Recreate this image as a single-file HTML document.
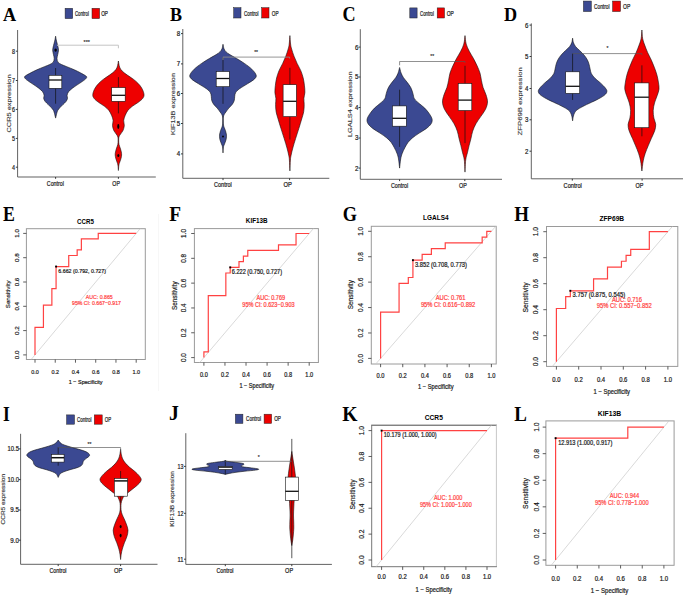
<!DOCTYPE html><html><head><meta charset="utf-8"><style>html,body{margin:0;padding:0;background:#fff;width:685px;height:596px;overflow:hidden}svg{display:block}</style></head><body>
<svg width="685" height="596" viewBox="0 0 685 596">
<rect width="685" height="596" fill="#fff"/>
<text transform="translate(3.00,20.90) scale(0.917,1)" x="0" y="0" font-family="Liberation Serif" font-weight="bold" font-size="19.85" fill="#000">A</text>
<rect x="65.1" y="8.3" width="7.6" height="10.3" fill="#3B4992" stroke="#222" stroke-width="0.5"/>
<text x="74.90" y="15.90" font-family="Liberation Sans" font-size="6.8" font-weight="normal" fill="#1a1a1a" stroke="#1a1a1a" stroke-width="0.22" textLength="14.00" lengthAdjust="spacingAndGlyphs">Control</text>
<rect x="92" y="8.3" width="7.6" height="10.3" fill="#EE0000" stroke="#222" stroke-width="0.5"/>
<text x="101.20" y="15.90" font-family="Liberation Sans" font-size="6.8" font-weight="normal" fill="#1a1a1a" stroke="#1a1a1a" stroke-width="0.22" textLength="6.80" lengthAdjust="spacingAndGlyphs">OP</text>
<path d="M17.6,30 L17.6,177 L155.8,177" fill="none" stroke="#5a5a5a" stroke-width="0.95"/>
<line x1="15.8" y1="51.2" x2="17.6" y2="51.2" stroke="#222" stroke-width="0.9"/>
<line x1="15.8" y1="80.5" x2="17.6" y2="80.5" stroke="#222" stroke-width="0.9"/>
<line x1="15.8" y1="109.4" x2="17.6" y2="109.4" stroke="#222" stroke-width="0.9"/>
<line x1="15.8" y1="138.4" x2="17.6" y2="138.4" stroke="#222" stroke-width="0.9"/>
<line x1="15.8" y1="167.2" x2="17.6" y2="167.2" stroke="#222" stroke-width="0.9"/>
<text x="12.10" y="53.60" font-family="Liberation Sans" font-size="7.2" font-weight="normal" fill="#1a1a1a" stroke="#1a1a1a" stroke-width="0.22" textLength="3.00" lengthAdjust="spacingAndGlyphs">8</text>
<text x="12.10" y="82.90" font-family="Liberation Sans" font-size="7.2" font-weight="normal" fill="#1a1a1a" stroke="#1a1a1a" stroke-width="0.22" textLength="3.00" lengthAdjust="spacingAndGlyphs">7</text>
<text x="12.10" y="111.80" font-family="Liberation Sans" font-size="7.2" font-weight="normal" fill="#1a1a1a" stroke="#1a1a1a" stroke-width="0.22" textLength="3.00" lengthAdjust="spacingAndGlyphs">6</text>
<text x="12.10" y="140.80" font-family="Liberation Sans" font-size="7.2" font-weight="normal" fill="#1a1a1a" stroke="#1a1a1a" stroke-width="0.22" textLength="3.00" lengthAdjust="spacingAndGlyphs">5</text>
<text x="12.10" y="169.60" font-family="Liberation Sans" font-size="7.2" font-weight="normal" fill="#1a1a1a" stroke="#1a1a1a" stroke-width="0.22" textLength="3.00" lengthAdjust="spacingAndGlyphs">4</text>
<g transform="translate(8.70,103.50) scale(0.72,1) rotate(-90)"><text x="0" y="0" dy="0.35em" font-family="Liberation Sans" font-size="7.5" fill="#3a3a3a" text-anchor="middle" stroke="#3a3a3a" stroke-width="0.18" textLength="58" lengthAdjust="spacingAndGlyphs">CCR5 expression</text></g>
<line x1="55.6" y1="177" x2="55.6" y2="178.8" stroke="#222" stroke-width="0.9"/>
<line x1="118.4" y1="177" x2="118.4" y2="178.8" stroke="#222" stroke-width="0.9"/>
<text x="46.80" y="185.80" font-family="Liberation Sans" font-size="7.4" font-weight="normal" fill="#1a1a1a" stroke="#1a1a1a" stroke-width="0.22" textLength="17.10" lengthAdjust="spacingAndGlyphs">Control</text>
<text x="112.30" y="185.80" font-family="Liberation Sans" font-size="7.4" font-weight="normal" fill="#1a1a1a" stroke="#1a1a1a" stroke-width="0.22" textLength="7.60" lengthAdjust="spacingAndGlyphs">OP</text>
<path d="M55.60,36.20 C55.75,37.02 56.15,39.53 56.50,41.10 C56.85,42.67 57.37,44.10 57.70,45.60 C58.03,47.10 58.50,48.58 58.50,50.10 C58.50,51.62 57.95,53.32 57.70,54.70 C57.45,56.08 56.95,57.15 57.00,58.40 C57.05,59.65 57.25,61.18 58.00,62.20 C58.75,63.22 60.03,63.75 61.50,64.50 C62.97,65.25 64.67,65.82 66.80,66.70 C68.93,67.58 72.03,68.78 74.30,69.80 C76.57,70.82 78.52,71.80 80.40,72.80 C82.28,73.80 84.55,75.05 85.60,75.80 C86.65,76.55 86.82,76.67 86.70,77.30 C86.58,77.93 86.08,78.60 84.90,79.60 C83.72,80.60 81.62,81.92 79.60,83.30 C77.58,84.68 74.63,86.50 72.80,87.90 C70.97,89.30 69.55,90.45 68.60,91.70 C67.65,92.95 67.28,94.28 67.10,95.40 C66.92,96.52 67.68,97.38 67.50,98.40 C67.32,99.42 66.75,100.48 66.00,101.50 C65.25,102.52 64.00,103.50 63.00,104.50 C62.00,105.50 60.88,106.50 60.00,107.50 C59.12,108.50 58.25,109.50 57.70,110.50 C57.15,111.50 57.05,112.23 56.70,113.50 C56.35,114.77 55.78,117.33 55.60,118.10 C55.42,117.33 54.85,114.77 54.50,113.50 C54.15,112.23 54.05,111.50 53.50,110.50 C52.95,109.50 52.08,108.50 51.20,107.50 C50.32,106.50 49.20,105.50 48.20,104.50 C47.20,103.50 45.95,102.52 45.20,101.50 C44.45,100.48 43.88,99.42 43.70,98.40 C43.52,97.38 44.28,96.52 44.10,95.40 C43.92,94.28 43.55,92.95 42.60,91.70 C41.65,90.45 40.23,89.30 38.40,87.90 C36.57,86.50 33.62,84.68 31.60,83.30 C29.58,81.92 27.48,80.60 26.30,79.60 C25.12,78.60 24.62,77.93 24.50,77.30 C24.38,76.67 24.55,76.55 25.60,75.80 C26.65,75.05 28.92,73.80 30.80,72.80 C32.68,71.80 34.63,70.82 36.90,69.80 C39.17,68.78 42.27,67.58 44.40,66.70 C46.53,65.82 48.23,65.25 49.70,64.50 C51.17,63.75 52.45,63.22 53.20,62.20 C53.95,61.18 54.15,59.65 54.20,58.40 C54.25,57.15 53.75,56.08 53.50,54.70 C53.25,53.32 52.70,51.62 52.70,50.10 C52.70,48.58 53.17,47.10 53.50,45.60 C53.83,44.10 54.35,42.67 54.70,41.10 C55.05,39.53 55.45,37.02 55.60,36.20Z" fill="#3B4992" stroke="#111" stroke-width="0.6"/>
<ellipse cx="55.6" cy="50.1" rx="1.25" ry="1.6" fill="#000"/>
<line x1="55.6" y1="68" x2="55.6" y2="103.7" stroke="#111" stroke-width="0.7"/>
<rect x="49" y="75.3" width="12.799999999999997" height="13.0" fill="#fff" stroke="#111" stroke-width="0.6"/>
<line x1="49" y1="80" x2="61.8" y2="80" stroke="#111" stroke-width="1.3"/>
<path d="M118.40,61.00 C118.60,62.02 118.97,65.42 119.60,67.10 C120.23,68.78 120.92,69.77 122.20,71.10 C123.48,72.43 125.45,73.75 127.30,75.10 C129.15,76.45 131.53,77.85 133.30,79.20 C135.07,80.55 136.48,81.70 137.90,83.20 C139.32,84.70 140.78,86.35 141.80,88.20 C142.82,90.05 143.83,92.62 144.00,94.30 C144.17,95.98 143.75,96.97 142.80,98.30 C141.85,99.63 140.05,100.97 138.30,102.30 C136.55,103.63 134.03,104.95 132.30,106.30 C130.57,107.65 129.08,108.88 127.90,110.40 C126.72,111.92 125.90,113.73 125.20,115.40 C124.50,117.07 123.85,118.70 123.70,120.40 C123.55,122.10 124.42,123.92 124.30,125.60 C124.18,127.28 123.62,129.10 123.00,130.50 C122.38,131.90 121.28,132.92 120.60,134.00 C119.92,135.08 119.22,135.83 118.90,137.00 C118.58,138.17 118.68,139.75 118.70,141.00 C118.72,142.25 118.75,143.33 119.00,144.50 C119.25,145.67 119.82,146.75 120.20,148.00 C120.58,149.25 121.07,150.83 121.30,152.00 C121.53,153.17 121.65,153.92 121.60,155.00 C121.55,156.08 121.30,157.33 121.00,158.50 C120.70,159.67 120.15,160.92 119.80,162.00 C119.45,163.08 119.13,163.58 118.90,165.00 C118.67,166.42 118.48,169.58 118.40,170.50 C118.32,169.58 118.13,166.42 117.90,165.00 C117.67,163.58 117.35,163.08 117.00,162.00 C116.65,160.92 116.10,159.67 115.80,158.50 C115.50,157.33 115.25,156.08 115.20,155.00 C115.15,153.92 115.27,153.17 115.50,152.00 C115.73,150.83 116.22,149.25 116.60,148.00 C116.98,146.75 117.55,145.67 117.80,144.50 C118.05,143.33 118.08,142.25 118.10,141.00 C118.12,139.75 118.22,138.17 117.90,137.00 C117.58,135.83 116.88,135.08 116.20,134.00 C115.52,132.92 114.42,131.90 113.80,130.50 C113.18,129.10 112.62,127.28 112.50,125.60 C112.38,123.92 113.25,122.10 113.10,120.40 C112.95,118.70 112.30,117.07 111.60,115.40 C110.90,113.73 110.08,111.92 108.90,110.40 C107.72,108.88 106.23,107.65 104.50,106.30 C102.77,104.95 100.25,103.63 98.50,102.30 C96.75,100.97 94.95,99.63 94.00,98.30 C93.05,96.97 92.63,95.98 92.80,94.30 C92.97,92.62 93.98,90.05 95.00,88.20 C96.02,86.35 97.48,84.70 98.90,83.20 C100.32,81.70 101.73,80.55 103.50,79.20 C105.27,77.85 107.65,76.45 109.50,75.10 C111.35,73.75 113.32,72.43 114.60,71.10 C115.88,69.77 116.57,68.78 117.20,67.10 C117.83,65.42 118.20,62.02 118.40,61.00Z" fill="#EE0000" stroke="#111" stroke-width="0.6"/>
<line x1="118.4" y1="77.1" x2="118.4" y2="113.4" stroke="#111" stroke-width="0.7"/>
<rect x="111.7" y="87.6" width="13.5" height="13.700000000000003" fill="#fff" stroke="#111" stroke-width="0.6"/>
<line x1="111.7" y1="95.3" x2="125.2" y2="95.3" stroke="#111" stroke-width="1.3"/>
<ellipse cx="118.3" cy="126.5" rx="1.05" ry="2.4" fill="#000"/>
<ellipse cx="118.3" cy="155.5" rx="1.0" ry="1.6" fill="#000"/>
<path d="M57,45.2 L57,45.2 L118.4,45.2 L118.4,48.3" fill="none" stroke="#c4c4c4" stroke-width="1.0"/>
<text x="86.8" y="43.6" font-family="Liberation Sans" font-size="5.5" fill="#333" stroke="#333" stroke-width="0.15" text-anchor="middle">***</text>
<text transform="translate(169.90,20.60) scale(0.930,1)" x="0" y="0" font-family="Liberation Serif" font-weight="bold" font-size="19.39" fill="#000">B</text>
<rect x="233.7" y="7.7" width="7.3" height="10.3" fill="#3B4992" stroke="#222" stroke-width="0.5"/>
<text x="243.90" y="15.80" font-family="Liberation Sans" font-size="6.8" font-weight="normal" fill="#1a1a1a" stroke="#1a1a1a" stroke-width="0.22" textLength="14.70" lengthAdjust="spacingAndGlyphs">Control</text>
<rect x="261.7" y="7.7" width="7.3" height="10.3" fill="#EE0000" stroke="#222" stroke-width="0.5"/>
<text x="271.80" y="15.80" font-family="Liberation Sans" font-size="6.8" font-weight="normal" fill="#1a1a1a" stroke="#1a1a1a" stroke-width="0.22" textLength="6.80" lengthAdjust="spacingAndGlyphs">OP</text>
<path d="M182.8,29 L182.8,178.3 L329.3,178.3" fill="none" stroke="#5a5a5a" stroke-width="0.95"/>
<line x1="181.0" y1="33.6" x2="182.8" y2="33.6" stroke="#222" stroke-width="0.9"/>
<line x1="181.0" y1="63.9" x2="182.8" y2="63.9" stroke="#222" stroke-width="0.9"/>
<line x1="181.0" y1="93.5" x2="182.8" y2="93.5" stroke="#222" stroke-width="0.9"/>
<line x1="181.0" y1="123.5" x2="182.8" y2="123.5" stroke="#222" stroke-width="0.9"/>
<line x1="181.0" y1="153.9" x2="182.8" y2="153.9" stroke="#222" stroke-width="0.9"/>
<text x="176.70" y="36.00" font-family="Liberation Sans" font-size="7.3" font-weight="normal" fill="#1a1a1a" stroke="#1a1a1a" stroke-width="0.22" textLength="3.40" lengthAdjust="spacingAndGlyphs">8</text>
<text x="176.70" y="66.30" font-family="Liberation Sans" font-size="7.3" font-weight="normal" fill="#1a1a1a" stroke="#1a1a1a" stroke-width="0.22" textLength="3.40" lengthAdjust="spacingAndGlyphs">7</text>
<text x="176.70" y="95.90" font-family="Liberation Sans" font-size="7.3" font-weight="normal" fill="#1a1a1a" stroke="#1a1a1a" stroke-width="0.22" textLength="3.40" lengthAdjust="spacingAndGlyphs">6</text>
<text x="176.70" y="125.90" font-family="Liberation Sans" font-size="7.3" font-weight="normal" fill="#1a1a1a" stroke="#1a1a1a" stroke-width="0.22" textLength="3.40" lengthAdjust="spacingAndGlyphs">5</text>
<text x="176.70" y="156.30" font-family="Liberation Sans" font-size="7.3" font-weight="normal" fill="#1a1a1a" stroke="#1a1a1a" stroke-width="0.22" textLength="3.40" lengthAdjust="spacingAndGlyphs">4</text>
<g transform="translate(173.20,104.00) scale(0.75,1) rotate(-90)"><text x="0" y="0" dy="0.35em" font-family="Liberation Sans" font-size="7.3" fill="#3a3a3a" text-anchor="middle" stroke="#3a3a3a" stroke-width="0.18" textLength="62" lengthAdjust="spacingAndGlyphs">KIF13B expression</text></g>
<line x1="223" y1="178.3" x2="223" y2="180.10000000000002" stroke="#222" stroke-width="0.9"/>
<line x1="289.6" y1="178.3" x2="289.6" y2="180.10000000000002" stroke="#222" stroke-width="0.9"/>
<text x="214.10" y="186.90" font-family="Liberation Sans" font-size="6.9" font-weight="normal" fill="#1a1a1a" stroke="#1a1a1a" stroke-width="0.22" textLength="17.70" lengthAdjust="spacingAndGlyphs">Control</text>
<text x="283.50" y="186.90" font-family="Liberation Sans" font-size="6.9" font-weight="normal" fill="#1a1a1a" stroke="#1a1a1a" stroke-width="0.22" textLength="8.40" lengthAdjust="spacingAndGlyphs">OP</text>
<path d="M223.00,44.30 C223.17,45.05 223.52,47.57 224.00,48.80 C224.48,50.03 224.93,50.73 225.90,51.70 C226.87,52.67 228.02,53.47 229.80,54.60 C231.58,55.73 234.17,57.03 236.60,58.50 C239.03,59.97 241.87,61.62 244.40,63.40 C246.93,65.18 249.85,67.27 251.80,69.20 C253.75,71.13 255.63,73.38 256.10,75.00 C256.57,76.62 256.05,77.43 254.60,78.90 C253.15,80.37 249.90,82.17 247.40,83.80 C244.90,85.43 241.55,87.25 239.60,88.70 C237.65,90.15 236.52,91.22 235.70,92.50 C234.88,93.78 234.93,95.10 234.70,96.40 C234.47,97.70 234.68,99.00 234.30,100.30 C233.92,101.60 233.32,102.90 232.40,104.20 C231.48,105.50 229.88,106.80 228.80,108.10 C227.72,109.40 226.67,110.93 225.90,112.00 C225.13,113.07 224.62,113.67 224.20,114.50 C223.78,115.33 223.55,115.92 223.40,117.00 C223.25,118.08 223.28,119.67 223.30,121.00 C223.32,122.33 223.35,123.92 223.50,125.00 C223.65,126.08 223.88,126.58 224.20,127.50 C224.52,128.42 225.05,129.42 225.40,130.50 C225.75,131.58 226.12,133.00 226.30,134.00 C226.48,135.00 226.53,135.58 226.50,136.50 C226.47,137.42 226.33,138.50 226.10,139.50 C225.87,140.50 225.47,141.50 225.10,142.50 C224.73,143.50 224.20,144.58 223.90,145.50 C223.60,146.42 223.45,146.77 223.30,148.00 C223.15,149.23 223.05,152.08 223.00,152.90 C222.95,152.08 222.85,149.23 222.70,148.00 C222.55,146.77 222.40,146.42 222.10,145.50 C221.80,144.58 221.27,143.50 220.90,142.50 C220.53,141.50 220.13,140.50 219.90,139.50 C219.67,138.50 219.53,137.42 219.50,136.50 C219.47,135.58 219.52,135.00 219.70,134.00 C219.88,133.00 220.25,131.58 220.60,130.50 C220.95,129.42 221.48,128.42 221.80,127.50 C222.12,126.58 222.35,126.08 222.50,125.00 C222.65,123.92 222.68,122.33 222.70,121.00 C222.72,119.67 222.75,118.08 222.60,117.00 C222.45,115.92 222.22,115.33 221.80,114.50 C221.38,113.67 220.87,113.07 220.10,112.00 C219.33,110.93 218.28,109.40 217.20,108.10 C216.12,106.80 214.52,105.50 213.60,104.20 C212.68,102.90 212.08,101.60 211.70,100.30 C211.32,99.00 211.53,97.70 211.30,96.40 C211.07,95.10 211.12,93.78 210.30,92.50 C209.48,91.22 208.35,90.15 206.40,88.70 C204.45,87.25 201.10,85.43 198.60,83.80 C196.10,82.17 192.85,80.37 191.40,78.90 C189.95,77.43 189.43,76.62 189.90,75.00 C190.37,73.38 192.25,71.13 194.20,69.20 C196.15,67.27 199.07,65.18 201.60,63.40 C204.13,61.62 206.97,59.97 209.40,58.50 C211.83,57.03 214.42,55.73 216.20,54.60 C217.98,53.47 219.13,52.67 220.10,51.70 C221.07,50.73 221.52,50.03 222.00,48.80 C222.48,47.57 222.83,45.05 223.00,44.30Z" fill="#3B4992" stroke="#111" stroke-width="0.6"/>
<line x1="223" y1="57.1" x2="223" y2="103.8" stroke="#111" stroke-width="0.7"/>
<rect x="216.2" y="71.5" width="13.100000000000023" height="15.200000000000003" fill="#fff" stroke="#111" stroke-width="0.6"/>
<line x1="216.2" y1="78.5" x2="229.3" y2="78.5" stroke="#111" stroke-width="1.3"/>
<ellipse cx="223" cy="136.5" rx="0.95" ry="1.0" fill="#000"/>
<path d="M289.90,35.60 C290.02,37.02 290.32,41.88 290.60,44.10 C290.88,46.32 291.03,46.88 291.60,48.90 C292.17,50.92 293.08,53.78 294.00,56.20 C294.92,58.62 295.97,60.98 297.10,63.40 C298.23,65.82 299.78,68.27 300.80,70.70 C301.82,73.13 302.60,75.58 303.20,78.00 C303.80,80.42 304.12,82.80 304.40,85.20 C304.68,87.60 304.98,90.20 304.90,92.40 C304.82,94.60 304.02,96.38 303.90,98.40 C303.78,100.42 304.23,102.28 304.20,104.50 C304.17,106.72 304.12,109.28 303.70,111.70 C303.28,114.12 302.52,116.18 301.70,119.00 C300.88,121.82 299.80,125.38 298.80,128.60 C297.80,131.82 296.70,135.07 295.70,138.30 C294.70,141.53 293.57,145.18 292.80,148.00 C292.03,150.82 291.50,153.20 291.10,155.20 C290.70,157.20 290.60,157.38 290.40,160.00 C290.20,162.62 289.98,169.08 289.90,170.90 C289.82,169.08 289.60,162.62 289.40,160.00 C289.20,157.38 289.10,157.20 288.70,155.20 C288.30,153.20 287.77,150.82 287.00,148.00 C286.23,145.18 285.10,141.53 284.10,138.30 C283.10,135.07 282.00,131.82 281.00,128.60 C280.00,125.38 278.92,121.82 278.10,119.00 C277.28,116.18 276.52,114.12 276.10,111.70 C275.68,109.28 275.63,106.72 275.60,104.50 C275.57,102.28 276.02,100.42 275.90,98.40 C275.78,96.38 274.98,94.60 274.90,92.40 C274.82,90.20 275.12,87.60 275.40,85.20 C275.68,82.80 276.00,80.42 276.60,78.00 C277.20,75.58 277.98,73.13 279.00,70.70 C280.02,68.27 281.57,65.82 282.70,63.40 C283.83,60.98 284.88,58.62 285.80,56.20 C286.72,53.78 287.63,50.92 288.20,48.90 C288.77,46.88 288.92,46.32 289.20,44.10 C289.48,41.88 289.78,37.02 289.90,35.60Z" fill="#EE0000" stroke="#111" stroke-width="0.6"/>
<line x1="289.9" y1="67.8" x2="289.9" y2="139.5" stroke="#111" stroke-width="0.7"/>
<rect x="283.1" y="84.7" width="13.299999999999955" height="31.89999999999999" fill="#fff" stroke="#111" stroke-width="0.6"/>
<line x1="283.1" y1="101.3" x2="296.4" y2="101.3" stroke="#111" stroke-width="1.3"/>
<path d="M223,60 L223,57.1 L289.6,57.1 L289.6,58.5" fill="none" stroke="#8a8a8a" stroke-width="0.9"/>
<text x="256.1" y="54.1" font-family="Liberation Sans" font-size="5" fill="#333" stroke="#333" stroke-width="0.15" text-anchor="middle">**</text>
<text transform="translate(342.50,21.39) scale(0.858,1)" x="0" y="0" font-family="Liberation Serif" font-weight="bold" font-size="21.19" fill="#000">C</text>
<rect x="409.8" y="7.9" width="7.3" height="10.1" fill="#3B4992" stroke="#222" stroke-width="0.5"/>
<text x="420.00" y="15.60" font-family="Liberation Sans" font-size="6.8" font-weight="normal" fill="#1a1a1a" stroke="#1a1a1a" stroke-width="0.22" textLength="14.00" lengthAdjust="spacingAndGlyphs">Control</text>
<rect x="437.2" y="7.9" width="7.3" height="10.1" fill="#EE0000" stroke="#222" stroke-width="0.5"/>
<text x="446.80" y="15.60" font-family="Liberation Sans" font-size="6.8" font-weight="normal" fill="#1a1a1a" stroke="#1a1a1a" stroke-width="0.22" textLength="7.10" lengthAdjust="spacingAndGlyphs">OP</text>
<path d="M360.3,29.2 L360.3,179.3 L502,179.3" fill="none" stroke="#5a5a5a" stroke-width="0.95"/>
<line x1="358.5" y1="47.1" x2="360.3" y2="47.1" stroke="#222" stroke-width="0.9"/>
<line x1="358.5" y1="77" x2="360.3" y2="77" stroke="#222" stroke-width="0.9"/>
<line x1="358.5" y1="107.5" x2="360.3" y2="107.5" stroke="#222" stroke-width="0.9"/>
<line x1="358.5" y1="138" x2="360.3" y2="138" stroke="#222" stroke-width="0.9"/>
<line x1="358.5" y1="168.1" x2="360.3" y2="168.1" stroke="#222" stroke-width="0.9"/>
<text x="354.90" y="49.50" font-family="Liberation Sans" font-size="7.3" font-weight="normal" fill="#1a1a1a" stroke="#1a1a1a" stroke-width="0.22" textLength="3.40" lengthAdjust="spacingAndGlyphs">6</text>
<text x="354.90" y="79.40" font-family="Liberation Sans" font-size="7.3" font-weight="normal" fill="#1a1a1a" stroke="#1a1a1a" stroke-width="0.22" textLength="3.40" lengthAdjust="spacingAndGlyphs">5</text>
<text x="354.90" y="109.90" font-family="Liberation Sans" font-size="7.3" font-weight="normal" fill="#1a1a1a" stroke="#1a1a1a" stroke-width="0.22" textLength="3.40" lengthAdjust="spacingAndGlyphs">4</text>
<text x="354.90" y="140.40" font-family="Liberation Sans" font-size="7.3" font-weight="normal" fill="#1a1a1a" stroke="#1a1a1a" stroke-width="0.22" textLength="3.40" lengthAdjust="spacingAndGlyphs">3</text>
<text x="354.90" y="170.50" font-family="Liberation Sans" font-size="7.3" font-weight="normal" fill="#1a1a1a" stroke="#1a1a1a" stroke-width="0.22" textLength="3.40" lengthAdjust="spacingAndGlyphs">2</text>
<g transform="translate(350.70,104.30) scale(0.7,1) rotate(-90)"><text x="0" y="0" dy="0.35em" font-family="Liberation Sans" font-size="7.3" fill="#3a3a3a" text-anchor="middle" stroke="#3a3a3a" stroke-width="0.18" textLength="65.6" lengthAdjust="spacingAndGlyphs">LGALS4 expression</text></g>
<line x1="399.6" y1="179.3" x2="399.6" y2="181.10000000000002" stroke="#222" stroke-width="0.9"/>
<line x1="464.8" y1="179.3" x2="464.8" y2="181.10000000000002" stroke="#222" stroke-width="0.9"/>
<text x="390.90" y="188.30" font-family="Liberation Sans" font-size="6.9" font-weight="normal" fill="#1a1a1a" stroke="#1a1a1a" stroke-width="0.22" textLength="17.20" lengthAdjust="spacingAndGlyphs">Control</text>
<text x="459.00" y="188.30" font-family="Liberation Sans" font-size="6.9" font-weight="normal" fill="#1a1a1a" stroke="#1a1a1a" stroke-width="0.22" textLength="7.80" lengthAdjust="spacingAndGlyphs">OP</text>
<path d="M399.60,67.50 C399.85,68.43 400.45,71.40 401.10,73.10 C401.75,74.80 402.48,76.17 403.50,77.70 C404.52,79.23 405.97,80.62 407.20,82.30 C408.43,83.98 409.95,85.95 410.90,87.80 C411.85,89.65 412.30,91.55 412.90,93.40 C413.50,95.25 413.45,97.22 414.50,98.90 C415.55,100.58 417.50,101.97 419.20,103.50 C420.90,105.03 423.02,106.40 424.70,108.10 C426.38,109.80 428.07,111.85 429.30,113.70 C430.53,115.55 431.80,117.52 432.10,119.20 C432.40,120.88 432.03,122.27 431.10,123.80 C430.17,125.33 428.48,126.85 426.50,128.40 C424.52,129.95 421.50,131.55 419.20,133.10 C416.90,134.65 414.55,136.17 412.70,137.70 C410.85,139.23 409.42,140.62 408.10,142.30 C406.78,143.98 405.78,145.95 404.80,147.80 C403.82,149.65 402.88,151.55 402.20,153.40 C401.52,155.25 401.13,156.45 400.70,158.90 C400.27,161.35 399.78,166.57 399.60,168.10 C399.42,166.57 398.93,161.35 398.50,158.90 C398.07,156.45 397.68,155.25 397.00,153.40 C396.32,151.55 395.38,149.65 394.40,147.80 C393.42,145.95 392.42,143.98 391.10,142.30 C389.78,140.62 388.35,139.23 386.50,137.70 C384.65,136.17 382.30,134.65 380.00,133.10 C377.70,131.55 374.68,129.95 372.70,128.40 C370.72,126.85 369.03,125.33 368.10,123.80 C367.17,122.27 366.80,120.88 367.10,119.20 C367.40,117.52 368.67,115.55 369.90,113.70 C371.13,111.85 372.82,109.80 374.50,108.10 C376.18,106.40 378.30,105.03 380.00,103.50 C381.70,101.97 383.65,100.58 384.70,98.90 C385.75,97.22 385.70,95.25 386.30,93.40 C386.90,91.55 387.35,89.65 388.30,87.80 C389.25,85.95 390.77,83.98 392.00,82.30 C393.23,80.62 394.68,79.23 395.70,77.70 C396.72,76.17 397.45,74.80 398.10,73.10 C398.75,71.40 399.35,68.43 399.60,67.50Z" fill="#3B4992" stroke="#111" stroke-width="0.6"/>
<line x1="399.6" y1="89.7" x2="399.6" y2="146.9" stroke="#111" stroke-width="0.7"/>
<rect x="392.4" y="105.9" width="13.900000000000034" height="20.299999999999997" fill="#fff" stroke="#111" stroke-width="0.6"/>
<line x1="392.4" y1="118.3" x2="406.3" y2="118.3" stroke="#111" stroke-width="1.3"/>
<path d="M465.00,35.60 C465.20,37.02 465.48,41.48 466.20,44.10 C466.92,46.72 468.08,48.88 469.30,51.30 C470.52,53.72 472.20,56.18 473.50,58.60 C474.80,61.02 476.02,63.38 477.10,65.80 C478.18,68.22 479.28,70.68 480.00,73.10 C480.72,75.52 480.88,77.88 481.40,80.30 C481.92,82.72 482.33,85.18 483.10,87.60 C483.87,90.02 485.27,92.40 486.00,94.80 C486.73,97.20 487.58,99.58 487.50,102.00 C487.42,104.42 486.63,106.87 485.50,109.30 C484.37,111.73 482.30,114.18 480.70,116.60 C479.10,119.02 477.23,121.38 475.90,123.80 C474.57,126.22 473.52,128.68 472.70,131.10 C471.88,133.52 471.60,135.88 471.00,138.30 C470.40,140.72 469.70,143.18 469.10,145.60 C468.50,148.02 467.97,150.40 467.40,152.80 C466.83,155.20 466.10,156.78 465.70,160.00 C465.30,163.22 465.12,170.08 465.00,172.10 C464.88,170.08 464.70,163.22 464.30,160.00 C463.90,156.78 463.17,155.20 462.60,152.80 C462.03,150.40 461.50,148.02 460.90,145.60 C460.30,143.18 459.60,140.72 459.00,138.30 C458.40,135.88 458.12,133.52 457.30,131.10 C456.48,128.68 455.43,126.22 454.10,123.80 C452.77,121.38 450.90,119.02 449.30,116.60 C447.70,114.18 445.63,111.73 444.50,109.30 C443.37,106.87 442.58,104.42 442.50,102.00 C442.42,99.58 443.27,97.20 444.00,94.80 C444.73,92.40 446.13,90.02 446.90,87.60 C447.67,85.18 448.08,82.72 448.60,80.30 C449.12,77.88 449.28,75.52 450.00,73.10 C450.72,70.68 451.82,68.22 452.90,65.80 C453.98,63.38 455.20,61.02 456.50,58.60 C457.80,56.18 459.48,53.72 460.70,51.30 C461.92,48.88 463.08,46.72 463.80,44.10 C464.52,41.48 464.80,37.02 465.00,35.60Z" fill="#EE0000" stroke="#111" stroke-width="0.6"/>
<line x1="465" y1="65.8" x2="465" y2="143.1" stroke="#111" stroke-width="0.7"/>
<rect x="458.2" y="83.5" width="13.600000000000023" height="27.0" fill="#fff" stroke="#111" stroke-width="0.6"/>
<line x1="458.2" y1="100.1" x2="471.8" y2="100.1" stroke="#111" stroke-width="1.3"/>
<path d="M399.6,65.3 L399.6,61.5 L465,61.5 L465,62.9" fill="none" stroke="#555" stroke-width="0.65"/>
<text x="432.3" y="58.3" font-family="Liberation Sans" font-size="5" fill="#333" stroke="#333" stroke-width="0.15" text-anchor="middle">**</text>
<text transform="translate(504.10,21.00) scale(0.917,1)" x="0" y="0" font-family="Liberation Serif" font-weight="bold" font-size="19.85" fill="#000">D</text>
<rect x="583.4" y="1.05" width="7.9" height="10.5" fill="#3B4992" stroke="#222" stroke-width="0.5"/>
<text x="594.00" y="8.90" font-family="Liberation Sans" font-size="6.8" font-weight="normal" fill="#1a1a1a" stroke="#1a1a1a" stroke-width="0.22" textLength="15.50" lengthAdjust="spacingAndGlyphs">Control</text>
<rect x="612.6" y="1.05" width="7.9" height="10.5" fill="#EE0000" stroke="#222" stroke-width="0.5"/>
<text x="623.10" y="8.90" font-family="Liberation Sans" font-size="6.8" font-weight="normal" fill="#1a1a1a" stroke="#1a1a1a" stroke-width="0.22" textLength="7.30" lengthAdjust="spacingAndGlyphs">OP</text>
<path d="M531.3,23.4 L531.3,178.8 L683,178.8" fill="none" stroke="#5a5a5a" stroke-width="0.95"/>
<line x1="529.5" y1="25.1" x2="531.3" y2="25.1" stroke="#222" stroke-width="0.9"/>
<line x1="529.5" y1="56.5" x2="531.3" y2="56.5" stroke="#222" stroke-width="0.9"/>
<line x1="529.5" y1="88.5" x2="531.3" y2="88.5" stroke="#222" stroke-width="0.9"/>
<line x1="529.5" y1="119.8" x2="531.3" y2="119.8" stroke="#222" stroke-width="0.9"/>
<line x1="529.5" y1="151.2" x2="531.3" y2="151.2" stroke="#222" stroke-width="0.9"/>
<text x="525.00" y="27.50" font-family="Liberation Sans" font-size="7.3" font-weight="normal" fill="#1a1a1a" stroke="#1a1a1a" stroke-width="0.22" textLength="3.40" lengthAdjust="spacingAndGlyphs">6</text>
<text x="525.00" y="58.90" font-family="Liberation Sans" font-size="7.3" font-weight="normal" fill="#1a1a1a" stroke="#1a1a1a" stroke-width="0.22" textLength="3.40" lengthAdjust="spacingAndGlyphs">5</text>
<text x="525.00" y="90.90" font-family="Liberation Sans" font-size="7.3" font-weight="normal" fill="#1a1a1a" stroke="#1a1a1a" stroke-width="0.22" textLength="3.40" lengthAdjust="spacingAndGlyphs">4</text>
<text x="525.00" y="122.20" font-family="Liberation Sans" font-size="7.3" font-weight="normal" fill="#1a1a1a" stroke="#1a1a1a" stroke-width="0.22" textLength="3.40" lengthAdjust="spacingAndGlyphs">3</text>
<text x="525.00" y="153.60" font-family="Liberation Sans" font-size="7.3" font-weight="normal" fill="#1a1a1a" stroke="#1a1a1a" stroke-width="0.22" textLength="3.40" lengthAdjust="spacingAndGlyphs">2</text>
<g transform="translate(520.70,101.30) scale(0.7,1) rotate(-90)"><text x="0" y="0" dy="0.35em" font-family="Liberation Sans" font-size="7.3" fill="#3a3a3a" text-anchor="middle" stroke="#3a3a3a" stroke-width="0.18" textLength="68.4" lengthAdjust="spacingAndGlyphs">ZFP69B expression</text></g>
<line x1="572.3" y1="178.8" x2="572.3" y2="180.60000000000002" stroke="#222" stroke-width="0.9"/>
<line x1="642.1" y1="178.8" x2="642.1" y2="180.60000000000002" stroke="#222" stroke-width="0.9"/>
<text x="563.60" y="188.00" font-family="Liberation Sans" font-size="6.9" font-weight="normal" fill="#1a1a1a" stroke="#1a1a1a" stroke-width="0.22" textLength="18.20" lengthAdjust="spacingAndGlyphs">Control</text>
<text x="635.60" y="188.00" font-family="Liberation Sans" font-size="6.9" font-weight="normal" fill="#1a1a1a" stroke="#1a1a1a" stroke-width="0.22" textLength="7.90" lengthAdjust="spacingAndGlyphs">OP</text>
<path d="M572.60,38.20 C572.75,38.97 572.98,41.38 573.50,42.80 C574.02,44.22 574.68,45.42 575.70,46.70 C576.72,47.98 578.18,49.08 579.60,50.50 C581.02,51.92 582.92,53.65 584.20,55.20 C585.48,56.75 586.48,58.27 587.30,59.80 C588.12,61.33 588.63,62.87 589.10,64.40 C589.57,65.93 589.72,67.45 590.10,69.00 C590.48,70.55 590.58,72.15 591.40,73.70 C592.22,75.25 593.50,76.77 595.00,78.30 C596.50,79.83 598.73,81.35 600.40,82.90 C602.07,84.45 603.92,86.18 605.00,87.60 C606.08,89.02 607.02,90.12 606.90,91.40 C606.78,92.68 606.03,93.88 604.30,95.30 C602.57,96.72 599.47,98.35 596.50,99.90 C593.53,101.45 589.58,103.05 586.50,104.60 C583.42,106.15 579.93,107.92 578.00,109.20 C576.07,110.48 575.67,111.15 574.90,112.30 C574.13,113.45 573.78,114.68 573.40,116.10 C573.02,117.52 572.73,120.02 572.60,120.80 C572.47,120.02 572.18,117.52 571.80,116.10 C571.42,114.68 571.07,113.45 570.30,112.30 C569.53,111.15 569.13,110.48 567.20,109.20 C565.27,107.92 561.78,106.15 558.70,104.60 C555.62,103.05 551.67,101.45 548.70,99.90 C545.73,98.35 542.63,96.72 540.90,95.30 C539.17,93.88 538.42,92.68 538.30,91.40 C538.18,90.12 539.12,89.02 540.20,87.60 C541.28,86.18 543.13,84.45 544.80,82.90 C546.47,81.35 548.70,79.83 550.20,78.30 C551.70,76.77 552.98,75.25 553.80,73.70 C554.62,72.15 554.72,70.55 555.10,69.00 C555.48,67.45 555.63,65.93 556.10,64.40 C556.57,62.87 557.08,61.33 557.90,59.80 C558.72,58.27 559.72,56.75 561.00,55.20 C562.28,53.65 564.18,51.92 565.60,50.50 C567.02,49.08 568.48,47.98 569.50,46.70 C570.52,45.42 571.18,44.22 571.70,42.80 C572.22,41.38 572.45,38.97 572.60,38.20Z" fill="#3B4992" stroke="#111" stroke-width="0.6"/>
<line x1="572.6" y1="53.6" x2="572.6" y2="99.9" stroke="#111" stroke-width="0.7"/>
<rect x="565.7" y="71.8" width="14.0" height="21.60000000000001" fill="#fff" stroke="#111" stroke-width="0.6"/>
<line x1="565.7" y1="86.3" x2="579.7" y2="86.3" stroke="#111" stroke-width="1.3"/>
<path d="M641.90,30.00 C642.03,31.47 642.23,36.28 642.70,38.80 C643.17,41.32 643.87,42.78 644.70,45.10 C645.53,47.42 646.58,50.18 647.70,52.70 C648.82,55.22 650.27,57.68 651.40,60.20 C652.53,62.72 653.57,65.28 654.50,67.80 C655.43,70.32 656.33,72.78 657.00,75.30 C657.67,77.82 658.17,80.58 658.50,82.90 C658.83,85.22 659.22,87.10 659.00,89.20 C658.78,91.30 657.95,93.20 657.20,95.50 C656.45,97.80 655.17,100.48 654.50,103.00 C653.83,105.52 653.30,108.08 653.20,110.60 C653.10,113.12 653.48,115.80 653.90,118.10 C654.32,120.40 655.57,122.30 655.70,124.40 C655.83,126.50 655.42,128.38 654.70,130.70 C653.98,133.02 652.48,135.78 651.40,138.30 C650.32,140.82 649.23,143.28 648.20,145.80 C647.17,148.32 646.03,150.88 645.20,153.40 C644.37,155.92 643.75,157.97 643.20,160.90 C642.65,163.83 642.12,169.32 641.90,171.00 C641.68,169.32 641.15,163.83 640.60,160.90 C640.05,157.97 639.43,155.92 638.60,153.40 C637.77,150.88 636.63,148.32 635.60,145.80 C634.57,143.28 633.48,140.82 632.40,138.30 C631.32,135.78 629.82,133.02 629.10,130.70 C628.38,128.38 627.97,126.50 628.10,124.40 C628.23,122.30 629.48,120.40 629.90,118.10 C630.32,115.80 630.70,113.12 630.60,110.60 C630.50,108.08 629.97,105.52 629.30,103.00 C628.63,100.48 627.35,97.80 626.60,95.50 C625.85,93.20 625.02,91.30 624.80,89.20 C624.58,87.10 624.97,85.22 625.30,82.90 C625.63,80.58 626.13,77.82 626.80,75.30 C627.47,72.78 628.37,70.32 629.30,67.80 C630.23,65.28 631.27,62.72 632.40,60.20 C633.53,57.68 634.98,55.22 636.10,52.70 C637.22,50.18 638.27,47.42 639.10,45.10 C639.93,42.78 640.63,41.32 641.10,38.80 C641.57,36.28 641.77,31.47 641.90,30.00Z" fill="#EE0000" stroke="#111" stroke-width="0.6"/>
<line x1="641.9" y1="65.3" x2="641.9" y2="136.3" stroke="#111" stroke-width="0.7"/>
<rect x="634.6" y="82.9" width="14.299999999999955" height="44.8" fill="#fff" stroke="#111" stroke-width="0.6"/>
<line x1="634.6" y1="97.2" x2="648.9" y2="97.2" stroke="#111" stroke-width="1.3"/>
<path d="M572.6,53.6 L572.6,53.6 L641.9,53.6 L641.9,55.2" fill="none" stroke="#555" stroke-width="0.65"/>
<text x="607.4" y="50.2" font-family="Liberation Sans" font-size="5" fill="#333" stroke="#333" stroke-width="0.15" text-anchor="middle">*</text>
<text transform="translate(3.00,220.60) scale(0.874,1)" x="0" y="0" font-family="Liberation Serif" font-weight="bold" font-size="20.31" fill="#000">E</text>
<rect x="26.4" y="228.7" width="118.90" height="130.80" fill="none" stroke="#9a9a9a" stroke-width="1"/>
<line x1="31.17" y1="359.5" x2="140.11" y2="228.7" stroke="#c8c8c8" stroke-width="0.7"/>
<line x1="35.00" y1="359.5" x2="35.00" y2="362.7" stroke="#333" stroke-width="0.8"/>
<line x1="23.2" y1="354.90" x2="26.4" y2="354.90" stroke="#333" stroke-width="0.8"/>
<text x="31.21" y="373.60" font-family="Liberation Sans" font-size="6.2" font-weight="normal" fill="#1a1a1a" stroke="#1a1a1a" stroke-width="0.22" textLength="7.58" lengthAdjust="spacingAndGlyphs">0.0</text>
<g transform="translate(17.00,354.90) scale(1.0,1) rotate(-90)"><text x="0" y="0" dy="0.35em" font-family="Liberation Sans" font-size="6.2" fill="#1a1a1a" text-anchor="middle" stroke="#1a1a1a" stroke-width="0.18" textLength="8.62" lengthAdjust="spacingAndGlyphs">0.0</text></g>
<line x1="55.24" y1="359.5" x2="55.24" y2="362.7" stroke="#333" stroke-width="0.8"/>
<line x1="23.2" y1="330.60" x2="26.4" y2="330.60" stroke="#333" stroke-width="0.8"/>
<text x="51.45" y="373.60" font-family="Liberation Sans" font-size="6.2" font-weight="normal" fill="#1a1a1a" stroke="#1a1a1a" stroke-width="0.22" textLength="7.58" lengthAdjust="spacingAndGlyphs">0.2</text>
<g transform="translate(17.00,330.60) scale(1.0,1) rotate(-90)"><text x="0" y="0" dy="0.35em" font-family="Liberation Sans" font-size="6.2" fill="#1a1a1a" text-anchor="middle" stroke="#1a1a1a" stroke-width="0.18" textLength="8.62" lengthAdjust="spacingAndGlyphs">0.2</text></g>
<line x1="75.48" y1="359.5" x2="75.48" y2="362.7" stroke="#333" stroke-width="0.8"/>
<line x1="23.2" y1="306.30" x2="26.4" y2="306.30" stroke="#333" stroke-width="0.8"/>
<text x="71.69" y="373.60" font-family="Liberation Sans" font-size="6.2" font-weight="normal" fill="#1a1a1a" stroke="#1a1a1a" stroke-width="0.22" textLength="7.58" lengthAdjust="spacingAndGlyphs">0.4</text>
<g transform="translate(17.00,306.30) scale(1.0,1) rotate(-90)"><text x="0" y="0" dy="0.35em" font-family="Liberation Sans" font-size="6.2" fill="#1a1a1a" text-anchor="middle" stroke="#1a1a1a" stroke-width="0.18" textLength="8.62" lengthAdjust="spacingAndGlyphs">0.4</text></g>
<line x1="95.72" y1="359.5" x2="95.72" y2="362.7" stroke="#333" stroke-width="0.8"/>
<line x1="23.2" y1="282.00" x2="26.4" y2="282.00" stroke="#333" stroke-width="0.8"/>
<text x="91.93" y="373.60" font-family="Liberation Sans" font-size="6.2" font-weight="normal" fill="#1a1a1a" stroke="#1a1a1a" stroke-width="0.22" textLength="7.58" lengthAdjust="spacingAndGlyphs">0.6</text>
<g transform="translate(17.00,282.00) scale(1.0,1) rotate(-90)"><text x="0" y="0" dy="0.35em" font-family="Liberation Sans" font-size="6.2" fill="#1a1a1a" text-anchor="middle" stroke="#1a1a1a" stroke-width="0.18" textLength="8.62" lengthAdjust="spacingAndGlyphs">0.6</text></g>
<line x1="115.96" y1="359.5" x2="115.96" y2="362.7" stroke="#333" stroke-width="0.8"/>
<line x1="23.2" y1="257.70" x2="26.4" y2="257.70" stroke="#333" stroke-width="0.8"/>
<text x="112.17" y="373.60" font-family="Liberation Sans" font-size="6.2" font-weight="normal" fill="#1a1a1a" stroke="#1a1a1a" stroke-width="0.22" textLength="7.58" lengthAdjust="spacingAndGlyphs">0.8</text>
<g transform="translate(17.00,257.70) scale(1.0,1) rotate(-90)"><text x="0" y="0" dy="0.35em" font-family="Liberation Sans" font-size="6.2" fill="#1a1a1a" text-anchor="middle" stroke="#1a1a1a" stroke-width="0.18" textLength="8.62" lengthAdjust="spacingAndGlyphs">0.8</text></g>
<line x1="136.20" y1="359.5" x2="136.20" y2="362.7" stroke="#333" stroke-width="0.8"/>
<line x1="23.2" y1="233.40" x2="26.4" y2="233.40" stroke="#333" stroke-width="0.8"/>
<text x="132.41" y="373.60" font-family="Liberation Sans" font-size="6.2" font-weight="normal" fill="#1a1a1a" stroke="#1a1a1a" stroke-width="0.22" textLength="7.58" lengthAdjust="spacingAndGlyphs">1.0</text>
<g transform="translate(17.00,233.40) scale(1.0,1) rotate(-90)"><text x="0" y="0" dy="0.35em" font-family="Liberation Sans" font-size="6.2" fill="#1a1a1a" text-anchor="middle" stroke="#1a1a1a" stroke-width="0.18" textLength="8.62" lengthAdjust="spacingAndGlyphs">1.0</text></g>
<path d="M35.00,354.90 L35.00,327.29 L43.43,327.29 L43.43,305.20 L51.87,305.20 L51.87,288.63 L56.08,288.63 L56.08,266.54 L68.73,266.54 L68.73,255.49 L77.17,255.49 L77.17,249.97 L81.38,249.97 L81.38,238.92 L98.25,238.92 L98.25,233.40 L136.20,233.40" fill="none" stroke="#FF4242" stroke-width="1.2" stroke-linejoin="miter"/>
<rect x="55.13" y="265.59" width="1.9" height="1.9" fill="#000"/>
<text x="58.30" y="272.70" font-family="Liberation Sans" font-size="6.2" font-weight="normal" fill="#1a1a1a" stroke="#1a1a1a" stroke-width="0.22" textLength="47.70" lengthAdjust="spacingAndGlyphs">6.662 (0.792, 0.727)</text>
<text x="85.85" y="298.60" font-family="Liberation Sans" font-size="6.2" font-weight="normal" fill="#FF4242" stroke="#FF4242" stroke-width="0.22" textLength="26.89" lengthAdjust="spacingAndGlyphs">AUC: 0.865</text>
<text x="72.00" y="305.10" font-family="Liberation Sans" font-size="6.2" font-weight="normal" fill="#FF4242" stroke="#FF4242" stroke-width="0.22" textLength="49.00" lengthAdjust="spacingAndGlyphs">95% CI: 0.667−0.917</text>
<text x="77.12" y="223.80" font-family="Liberation Sans" font-size="7.0" font-weight="bold" fill="#000" textLength="16.76" lengthAdjust="spacingAndGlyphs">CCR5</text>
<text x="68.79" y="384.10" font-family="Liberation Sans" font-size="6.2" font-weight="normal" fill="#1a1a1a" stroke="#1a1a1a" stroke-width="0.22" textLength="33.83" lengthAdjust="spacingAndGlyphs">1 − Specificity</text>
<g transform="translate(7.50,294.30) scale(1.0,1) rotate(-90)"><text x="0" y="0" dy="0.35em" font-family="Liberation Sans" font-size="6.2" fill="#1a1a1a" text-anchor="middle" stroke="#1a1a1a" stroke-width="0.18" textLength="27.9" lengthAdjust="spacingAndGlyphs">Sensitivity</text></g>
<text transform="translate(169.30,220.70) scale(0.925,1)" x="0" y="0" font-family="Liberation Serif" font-weight="bold" font-size="20.92" fill="#000">F</text>
<rect x="194.4" y="228.6" width="124.00" height="133.90" fill="none" stroke="#9a9a9a" stroke-width="1"/>
<line x1="199.74" y1="362.5" x2="313.36" y2="228.6" stroke="#c8c8c8" stroke-width="0.7"/>
<line x1="203.90" y1="362.5" x2="203.90" y2="365.7" stroke="#333" stroke-width="0.8"/>
<line x1="191.20000000000002" y1="357.60" x2="194.4" y2="357.60" stroke="#333" stroke-width="0.8"/>
<text x="200.02" y="376.80" font-family="Liberation Sans" font-size="6.35" font-weight="normal" fill="#1a1a1a" stroke="#1a1a1a" stroke-width="0.22" textLength="7.77" lengthAdjust="spacingAndGlyphs">0.0</text>
<g transform="translate(184.20,357.60) scale(1.0,1) rotate(-90)"><text x="0" y="0" dy="0.35em" font-family="Liberation Sans" font-size="6.35" fill="#1a1a1a" text-anchor="middle" stroke="#1a1a1a" stroke-width="0.18" textLength="8.83" lengthAdjust="spacingAndGlyphs">0.0</text></g>
<line x1="224.96" y1="362.5" x2="224.96" y2="365.7" stroke="#333" stroke-width="0.8"/>
<line x1="191.20000000000002" y1="332.78" x2="194.4" y2="332.78" stroke="#333" stroke-width="0.8"/>
<text x="221.08" y="376.80" font-family="Liberation Sans" font-size="6.35" font-weight="normal" fill="#1a1a1a" stroke="#1a1a1a" stroke-width="0.22" textLength="7.77" lengthAdjust="spacingAndGlyphs">0.2</text>
<g transform="translate(184.20,332.78) scale(1.0,1) rotate(-90)"><text x="0" y="0" dy="0.35em" font-family="Liberation Sans" font-size="6.35" fill="#1a1a1a" text-anchor="middle" stroke="#1a1a1a" stroke-width="0.18" textLength="8.83" lengthAdjust="spacingAndGlyphs">0.2</text></g>
<line x1="246.02" y1="362.5" x2="246.02" y2="365.7" stroke="#333" stroke-width="0.8"/>
<line x1="191.20000000000002" y1="307.96" x2="194.4" y2="307.96" stroke="#333" stroke-width="0.8"/>
<text x="242.14" y="376.80" font-family="Liberation Sans" font-size="6.35" font-weight="normal" fill="#1a1a1a" stroke="#1a1a1a" stroke-width="0.22" textLength="7.77" lengthAdjust="spacingAndGlyphs">0.4</text>
<g transform="translate(184.20,307.96) scale(1.0,1) rotate(-90)"><text x="0" y="0" dy="0.35em" font-family="Liberation Sans" font-size="6.35" fill="#1a1a1a" text-anchor="middle" stroke="#1a1a1a" stroke-width="0.18" textLength="8.83" lengthAdjust="spacingAndGlyphs">0.4</text></g>
<line x1="267.08" y1="362.5" x2="267.08" y2="365.7" stroke="#333" stroke-width="0.8"/>
<line x1="191.20000000000002" y1="283.14" x2="194.4" y2="283.14" stroke="#333" stroke-width="0.8"/>
<text x="263.20" y="376.80" font-family="Liberation Sans" font-size="6.35" font-weight="normal" fill="#1a1a1a" stroke="#1a1a1a" stroke-width="0.22" textLength="7.77" lengthAdjust="spacingAndGlyphs">0.6</text>
<g transform="translate(184.20,283.14) scale(1.0,1) rotate(-90)"><text x="0" y="0" dy="0.35em" font-family="Liberation Sans" font-size="6.35" fill="#1a1a1a" text-anchor="middle" stroke="#1a1a1a" stroke-width="0.18" textLength="8.83" lengthAdjust="spacingAndGlyphs">0.6</text></g>
<line x1="288.14" y1="362.5" x2="288.14" y2="365.7" stroke="#333" stroke-width="0.8"/>
<line x1="191.20000000000002" y1="258.32" x2="194.4" y2="258.32" stroke="#333" stroke-width="0.8"/>
<text x="284.26" y="376.80" font-family="Liberation Sans" font-size="6.35" font-weight="normal" fill="#1a1a1a" stroke="#1a1a1a" stroke-width="0.22" textLength="7.77" lengthAdjust="spacingAndGlyphs">0.8</text>
<g transform="translate(184.20,258.32) scale(1.0,1) rotate(-90)"><text x="0" y="0" dy="0.35em" font-family="Liberation Sans" font-size="6.35" fill="#1a1a1a" text-anchor="middle" stroke="#1a1a1a" stroke-width="0.18" textLength="8.83" lengthAdjust="spacingAndGlyphs">0.8</text></g>
<line x1="309.20" y1="362.5" x2="309.20" y2="365.7" stroke="#333" stroke-width="0.8"/>
<line x1="191.20000000000002" y1="233.50" x2="194.4" y2="233.50" stroke="#333" stroke-width="0.8"/>
<text x="305.32" y="376.80" font-family="Liberation Sans" font-size="6.35" font-weight="normal" fill="#1a1a1a" stroke="#1a1a1a" stroke-width="0.22" textLength="7.77" lengthAdjust="spacingAndGlyphs">1.0</text>
<g transform="translate(184.20,233.50) scale(1.0,1) rotate(-90)"><text x="0" y="0" dy="0.35em" font-family="Liberation Sans" font-size="6.35" fill="#1a1a1a" text-anchor="middle" stroke="#1a1a1a" stroke-width="0.18" textLength="8.83" lengthAdjust="spacingAndGlyphs">1.0</text></g>
<path d="M203.90,357.60 L203.90,351.96 L208.29,351.96 L208.29,295.55 L225.84,295.55 L225.84,272.99 L230.22,272.99 L230.22,267.35 L239.00,267.35 L239.00,261.70 L243.39,261.70 L243.39,256.06 L247.78,256.06 L247.78,250.42 L278.49,250.42 L278.49,244.78 L296.04,244.78 L296.04,233.50 L309.20,233.50" fill="none" stroke="#FF4242" stroke-width="1.2" stroke-linejoin="miter"/>
<rect x="229.28" y="266.40" width="1.9" height="1.9" fill="#000"/>
<text x="231.80" y="273.90" font-family="Liberation Sans" font-size="6.35" font-weight="normal" fill="#1a1a1a" stroke="#1a1a1a" stroke-width="0.22" textLength="50.20" lengthAdjust="spacingAndGlyphs">6.222 (0.750, 0.727)</text>
<text x="256.45" y="300.20" font-family="Liberation Sans" font-size="6.35" font-weight="normal" fill="#FF4242" stroke="#FF4242" stroke-width="0.22" textLength="28.70" lengthAdjust="spacingAndGlyphs">AUC: 0.769</text>
<text x="242.30" y="306.50" font-family="Liberation Sans" font-size="6.35" font-weight="normal" fill="#FF4242" stroke="#FF4242" stroke-width="0.22" textLength="52.30" lengthAdjust="spacingAndGlyphs">95% CI: 0.623−0.903</text>
<text x="245.82" y="223.30" font-family="Liberation Sans" font-size="7.169354838709676" font-weight="bold" fill="#000" textLength="21.77" lengthAdjust="spacingAndGlyphs">KIF13B</text>
<text x="239.38" y="388.40" font-family="Liberation Sans" font-size="6.35" font-weight="normal" fill="#1a1a1a" stroke="#1a1a1a" stroke-width="0.22" textLength="34.65" lengthAdjust="spacingAndGlyphs">1 − Specificity</text>
<g transform="translate(175.10,295.70) scale(1.0,1) rotate(-90)"><text x="0" y="0" dy="0.35em" font-family="Liberation Sans" font-size="6.35" fill="#1a1a1a" text-anchor="middle" stroke="#1a1a1a" stroke-width="0.18" textLength="28.57" lengthAdjust="spacingAndGlyphs">Sensitivity</text></g>
<text transform="translate(342.80,220.89) scale(0.871,1)" x="0" y="0" font-family="Liberation Serif" font-weight="bold" font-size="21.04" fill="#000">G</text>
<rect x="371.3" y="226.3" width="124.90" height="137.70" fill="none" stroke="#9a9a9a" stroke-width="1"/>
<line x1="375.72" y1="364" x2="495.76" y2="226.3" stroke="#c8c8c8" stroke-width="0.7"/>
<line x1="380.60" y1="364" x2="380.60" y2="367.2" stroke="#333" stroke-width="0.8"/>
<line x1="368.1" y1="358.40" x2="371.3" y2="358.40" stroke="#333" stroke-width="0.8"/>
<text x="376.62" y="377.50" font-family="Liberation Sans" font-size="6.5" font-weight="normal" fill="#1a1a1a" stroke="#1a1a1a" stroke-width="0.22" textLength="7.95" lengthAdjust="spacingAndGlyphs">0.0</text>
<g transform="translate(360.90,358.40) scale(1.0,1) rotate(-90)"><text x="0" y="0" dy="0.35em" font-family="Liberation Sans" font-size="6.5" fill="#1a1a1a" text-anchor="middle" stroke="#1a1a1a" stroke-width="0.18" textLength="9.04" lengthAdjust="spacingAndGlyphs">0.0</text></g>
<line x1="402.76" y1="364" x2="402.76" y2="367.2" stroke="#333" stroke-width="0.8"/>
<line x1="368.1" y1="332.98" x2="371.3" y2="332.98" stroke="#333" stroke-width="0.8"/>
<text x="398.78" y="377.50" font-family="Liberation Sans" font-size="6.5" font-weight="normal" fill="#1a1a1a" stroke="#1a1a1a" stroke-width="0.22" textLength="7.95" lengthAdjust="spacingAndGlyphs">0.2</text>
<g transform="translate(360.90,332.98) scale(1.0,1) rotate(-90)"><text x="0" y="0" dy="0.35em" font-family="Liberation Sans" font-size="6.5" fill="#1a1a1a" text-anchor="middle" stroke="#1a1a1a" stroke-width="0.18" textLength="9.04" lengthAdjust="spacingAndGlyphs">0.2</text></g>
<line x1="424.92" y1="364" x2="424.92" y2="367.2" stroke="#333" stroke-width="0.8"/>
<line x1="368.1" y1="307.56" x2="371.3" y2="307.56" stroke="#333" stroke-width="0.8"/>
<text x="420.94" y="377.50" font-family="Liberation Sans" font-size="6.5" font-weight="normal" fill="#1a1a1a" stroke="#1a1a1a" stroke-width="0.22" textLength="7.95" lengthAdjust="spacingAndGlyphs">0.4</text>
<g transform="translate(360.90,307.56) scale(1.0,1) rotate(-90)"><text x="0" y="0" dy="0.35em" font-family="Liberation Sans" font-size="6.5" fill="#1a1a1a" text-anchor="middle" stroke="#1a1a1a" stroke-width="0.18" textLength="9.04" lengthAdjust="spacingAndGlyphs">0.4</text></g>
<line x1="447.08" y1="364" x2="447.08" y2="367.2" stroke="#333" stroke-width="0.8"/>
<line x1="368.1" y1="282.14" x2="371.3" y2="282.14" stroke="#333" stroke-width="0.8"/>
<text x="443.10" y="377.50" font-family="Liberation Sans" font-size="6.5" font-weight="normal" fill="#1a1a1a" stroke="#1a1a1a" stroke-width="0.22" textLength="7.95" lengthAdjust="spacingAndGlyphs">0.6</text>
<g transform="translate(360.90,282.14) scale(1.0,1) rotate(-90)"><text x="0" y="0" dy="0.35em" font-family="Liberation Sans" font-size="6.5" fill="#1a1a1a" text-anchor="middle" stroke="#1a1a1a" stroke-width="0.18" textLength="9.04" lengthAdjust="spacingAndGlyphs">0.6</text></g>
<line x1="469.24" y1="364" x2="469.24" y2="367.2" stroke="#333" stroke-width="0.8"/>
<line x1="368.1" y1="256.72" x2="371.3" y2="256.72" stroke="#333" stroke-width="0.8"/>
<text x="465.26" y="377.50" font-family="Liberation Sans" font-size="6.5" font-weight="normal" fill="#1a1a1a" stroke="#1a1a1a" stroke-width="0.22" textLength="7.95" lengthAdjust="spacingAndGlyphs">0.8</text>
<g transform="translate(360.90,256.72) scale(1.0,1) rotate(-90)"><text x="0" y="0" dy="0.35em" font-family="Liberation Sans" font-size="6.5" fill="#1a1a1a" text-anchor="middle" stroke="#1a1a1a" stroke-width="0.18" textLength="9.04" lengthAdjust="spacingAndGlyphs">0.8</text></g>
<line x1="491.40" y1="364" x2="491.40" y2="367.2" stroke="#333" stroke-width="0.8"/>
<line x1="368.1" y1="231.30" x2="371.3" y2="231.30" stroke="#333" stroke-width="0.8"/>
<text x="487.42" y="377.50" font-family="Liberation Sans" font-size="6.5" font-weight="normal" fill="#1a1a1a" stroke="#1a1a1a" stroke-width="0.22" textLength="7.95" lengthAdjust="spacingAndGlyphs">1.0</text>
<g transform="translate(360.90,231.30) scale(1.0,1) rotate(-90)"><text x="0" y="0" dy="0.35em" font-family="Liberation Sans" font-size="6.5" fill="#1a1a1a" text-anchor="middle" stroke="#1a1a1a" stroke-width="0.18" textLength="9.04" lengthAdjust="spacingAndGlyphs">1.0</text></g>
<path d="M380.60,358.40 L380.60,312.18 L399.07,312.18 L399.07,283.30 L408.30,283.30 L408.30,277.52 L412.92,277.52 L412.92,260.19 L422.15,260.19 L422.15,254.41 L431.38,254.41 L431.38,248.63 L445.23,248.63 L445.23,242.85 L482.17,242.85 L482.17,237.08 L486.78,237.08 L486.78,231.30 L491.40,231.30" fill="none" stroke="#FF4242" stroke-width="1.2" stroke-linejoin="miter"/>
<rect x="411.97" y="259.24" width="1.9" height="1.9" fill="#000"/>
<text x="414.90" y="267.00" font-family="Liberation Sans" font-size="6.5" font-weight="normal" fill="#1a1a1a" stroke="#1a1a1a" stroke-width="0.22" textLength="52.10" lengthAdjust="spacingAndGlyphs">3.852 (0.708, 0.773)</text>
<text x="435.67" y="300.20" font-family="Liberation Sans" font-size="6.5" font-weight="normal" fill="#FF4242" stroke="#FF4242" stroke-width="0.22" textLength="29.86" lengthAdjust="spacingAndGlyphs">AUC: 0.761</text>
<text x="420.90" y="306.50" font-family="Liberation Sans" font-size="6.5" font-weight="normal" fill="#FF4242" stroke="#FF4242" stroke-width="0.22" textLength="54.40" lengthAdjust="spacingAndGlyphs">95% CI: 0.616−0.892</text>
<text x="423.05" y="220.00" font-family="Liberation Sans" font-size="7.338709677419355" font-weight="bold" fill="#000" textLength="25.51" lengthAdjust="spacingAndGlyphs">LGALS4</text>
<text x="418.07" y="389.40" font-family="Liberation Sans" font-size="6.5" font-weight="normal" fill="#1a1a1a" stroke="#1a1a1a" stroke-width="0.22" textLength="35.46" lengthAdjust="spacingAndGlyphs">1 − Specificity</text>
<g transform="translate(350.80,294.70) scale(1.0,1) rotate(-90)"><text x="0" y="0" dy="0.35em" font-family="Liberation Sans" font-size="6.5" fill="#1a1a1a" text-anchor="middle" stroke="#1a1a1a" stroke-width="0.18" textLength="29.25" lengthAdjust="spacingAndGlyphs">Sensitivity</text></g>
<text transform="translate(514.30,220.70) scale(0.907,1)" x="0" y="0" font-family="Liberation Serif" font-weight="bold" font-size="20.92" fill="#000">H</text>
<rect x="546.5" y="226.5" width="131.30" height="139.90" fill="none" stroke="#9a9a9a" stroke-width="1"/>
<line x1="552.37" y1="366.4" x2="672.36" y2="226.5" stroke="#c8c8c8" stroke-width="0.7"/>
<line x1="556.40" y1="366.4" x2="556.40" y2="369.59999999999997" stroke="#333" stroke-width="0.8"/>
<line x1="543.3" y1="361.70" x2="546.5" y2="361.70" stroke="#333" stroke-width="0.8"/>
<text x="552.30" y="382.00" font-family="Liberation Sans" font-size="6.7" font-weight="normal" fill="#1a1a1a" stroke="#1a1a1a" stroke-width="0.22" textLength="8.20" lengthAdjust="spacingAndGlyphs">0.0</text>
<g transform="translate(535.90,361.70) scale(1.0,1) rotate(-90)"><text x="0" y="0" dy="0.35em" font-family="Liberation Sans" font-size="6.7" fill="#1a1a1a" text-anchor="middle" stroke="#1a1a1a" stroke-width="0.18" textLength="9.31" lengthAdjust="spacingAndGlyphs">0.0</text></g>
<line x1="578.70" y1="366.4" x2="578.70" y2="369.59999999999997" stroke="#333" stroke-width="0.8"/>
<line x1="543.3" y1="335.70" x2="546.5" y2="335.70" stroke="#333" stroke-width="0.8"/>
<text x="574.60" y="382.00" font-family="Liberation Sans" font-size="6.7" font-weight="normal" fill="#1a1a1a" stroke="#1a1a1a" stroke-width="0.22" textLength="8.20" lengthAdjust="spacingAndGlyphs">0.2</text>
<g transform="translate(535.90,335.70) scale(1.0,1) rotate(-90)"><text x="0" y="0" dy="0.35em" font-family="Liberation Sans" font-size="6.7" fill="#1a1a1a" text-anchor="middle" stroke="#1a1a1a" stroke-width="0.18" textLength="9.31" lengthAdjust="spacingAndGlyphs">0.2</text></g>
<line x1="601.00" y1="366.4" x2="601.00" y2="369.59999999999997" stroke="#333" stroke-width="0.8"/>
<line x1="543.3" y1="309.70" x2="546.5" y2="309.70" stroke="#333" stroke-width="0.8"/>
<text x="596.90" y="382.00" font-family="Liberation Sans" font-size="6.7" font-weight="normal" fill="#1a1a1a" stroke="#1a1a1a" stroke-width="0.22" textLength="8.20" lengthAdjust="spacingAndGlyphs">0.4</text>
<g transform="translate(535.90,309.70) scale(1.0,1) rotate(-90)"><text x="0" y="0" dy="0.35em" font-family="Liberation Sans" font-size="6.7" fill="#1a1a1a" text-anchor="middle" stroke="#1a1a1a" stroke-width="0.18" textLength="9.31" lengthAdjust="spacingAndGlyphs">0.4</text></g>
<line x1="623.30" y1="366.4" x2="623.30" y2="369.59999999999997" stroke="#333" stroke-width="0.8"/>
<line x1="543.3" y1="283.70" x2="546.5" y2="283.70" stroke="#333" stroke-width="0.8"/>
<text x="619.20" y="382.00" font-family="Liberation Sans" font-size="6.7" font-weight="normal" fill="#1a1a1a" stroke="#1a1a1a" stroke-width="0.22" textLength="8.20" lengthAdjust="spacingAndGlyphs">0.6</text>
<g transform="translate(535.90,283.70) scale(1.0,1) rotate(-90)"><text x="0" y="0" dy="0.35em" font-family="Liberation Sans" font-size="6.7" fill="#1a1a1a" text-anchor="middle" stroke="#1a1a1a" stroke-width="0.18" textLength="9.31" lengthAdjust="spacingAndGlyphs">0.6</text></g>
<line x1="645.60" y1="366.4" x2="645.60" y2="369.59999999999997" stroke="#333" stroke-width="0.8"/>
<line x1="543.3" y1="257.70" x2="546.5" y2="257.70" stroke="#333" stroke-width="0.8"/>
<text x="641.50" y="382.00" font-family="Liberation Sans" font-size="6.7" font-weight="normal" fill="#1a1a1a" stroke="#1a1a1a" stroke-width="0.22" textLength="8.20" lengthAdjust="spacingAndGlyphs">0.8</text>
<g transform="translate(535.90,257.70) scale(1.0,1) rotate(-90)"><text x="0" y="0" dy="0.35em" font-family="Liberation Sans" font-size="6.7" fill="#1a1a1a" text-anchor="middle" stroke="#1a1a1a" stroke-width="0.18" textLength="9.31" lengthAdjust="spacingAndGlyphs">0.8</text></g>
<line x1="667.90" y1="366.4" x2="667.90" y2="369.59999999999997" stroke="#333" stroke-width="0.8"/>
<line x1="543.3" y1="231.70" x2="546.5" y2="231.70" stroke="#333" stroke-width="0.8"/>
<text x="663.80" y="382.00" font-family="Liberation Sans" font-size="6.7" font-weight="normal" fill="#1a1a1a" stroke="#1a1a1a" stroke-width="0.22" textLength="8.20" lengthAdjust="spacingAndGlyphs">1.0</text>
<g transform="translate(535.90,231.70) scale(1.0,1) rotate(-90)"><text x="0" y="0" dy="0.35em" font-family="Liberation Sans" font-size="6.7" fill="#1a1a1a" text-anchor="middle" stroke="#1a1a1a" stroke-width="0.18" textLength="9.31" lengthAdjust="spacingAndGlyphs">1.0</text></g>
<path d="M556.40,361.70 L556.40,308.52 L565.69,308.52 L565.69,296.70 L570.34,296.70 L570.34,290.79 L593.57,290.79 L593.57,278.97 L607.50,278.97 L607.50,267.15 L621.44,267.15 L621.44,261.25 L626.09,261.25 L626.09,255.34 L630.73,255.34 L630.73,249.43 L649.32,249.43 L649.32,231.70 L667.90,231.70" fill="none" stroke="#FF4242" stroke-width="1.2" stroke-linejoin="miter"/>
<rect x="569.39" y="289.84" width="1.9" height="1.9" fill="#000"/>
<text x="572.50" y="296.80" font-family="Liberation Sans" font-size="6.7" font-weight="normal" fill="#1a1a1a" stroke="#1a1a1a" stroke-width="0.22" textLength="52.70" lengthAdjust="spacingAndGlyphs">3.757 (0.875, 0.545)</text>
<text x="611.91" y="301.50" font-family="Liberation Sans" font-size="6.7" font-weight="normal" fill="#FF4242" stroke="#FF4242" stroke-width="0.22" textLength="30.19" lengthAdjust="spacingAndGlyphs">AUC: 0.716</text>
<text x="596.70" y="308.00" font-family="Liberation Sans" font-size="6.7" font-weight="normal" fill="#FF4242" stroke="#FF4242" stroke-width="0.22" textLength="55.00" lengthAdjust="spacingAndGlyphs">95% CI: 0.557−0.852</text>
<text x="599.42" y="221.00" font-family="Liberation Sans" font-size="7.564516129032258" font-weight="bold" fill="#000" textLength="24.76" lengthAdjust="spacingAndGlyphs">ZFP69B</text>
<text x="593.52" y="393.60" font-family="Liberation Sans" font-size="6.7" font-weight="normal" fill="#1a1a1a" stroke="#1a1a1a" stroke-width="0.22" textLength="36.56" lengthAdjust="spacingAndGlyphs">1 − Specificity</text>
<g transform="translate(525.80,297.40) scale(1.0,1) rotate(-90)"><text x="0" y="0" dy="0.35em" font-family="Liberation Sans" font-size="6.7" fill="#1a1a1a" text-anchor="middle" stroke="#1a1a1a" stroke-width="0.18" textLength="30.15" lengthAdjust="spacingAndGlyphs">Sensitivity</text></g>
<text transform="translate(342.30,420.70) scale(0.938,1)" x="0" y="0" font-family="Liberation Serif" font-weight="bold" font-size="20.92" fill="#000">K</text>
<line x1="371.2" y1="425.2" x2="496.9" y2="425.2" stroke="#4a4a4a" stroke-width="1"/>
<line x1="496.4" y1="425.2" x2="496.4" y2="566.7" stroke="#c8c8c8" stroke-width="1"/>
<line x1="371.2" y1="566.7" x2="496.9" y2="566.7" stroke="#777" stroke-width="1"/>
<line x1="371.7" y1="425.2" x2="371.7" y2="566.7" stroke="#777" stroke-width="1"/>
<line x1="376.14" y1="566.7" x2="491.40" y2="425.2" stroke="#c8c8c8" stroke-width="0.7"/>
<line x1="381.60" y1="566.7" x2="381.60" y2="569.9000000000001" stroke="#333" stroke-width="0.8"/>
<line x1="368.5" y1="560.00" x2="371.7" y2="560.00" stroke="#333" stroke-width="0.8"/>
<text x="377.50" y="579.30" font-family="Liberation Sans" font-size="6.7" font-weight="normal" fill="#1a1a1a" stroke="#1a1a1a" stroke-width="0.22" textLength="8.20" lengthAdjust="spacingAndGlyphs">0.0</text>
<g transform="translate(362.00,560.00) scale(1.0,1) rotate(-90)"><text x="0" y="0" dy="0.35em" font-family="Liberation Sans" font-size="6.7" fill="#1a1a1a" text-anchor="middle" stroke="#1a1a1a" stroke-width="0.18" textLength="9.31" lengthAdjust="spacingAndGlyphs">0.0</text></g>
<line x1="402.68" y1="566.7" x2="402.68" y2="569.9000000000001" stroke="#333" stroke-width="0.8"/>
<line x1="368.5" y1="534.12" x2="371.7" y2="534.12" stroke="#333" stroke-width="0.8"/>
<text x="398.58" y="579.30" font-family="Liberation Sans" font-size="6.7" font-weight="normal" fill="#1a1a1a" stroke="#1a1a1a" stroke-width="0.22" textLength="8.20" lengthAdjust="spacingAndGlyphs">0.2</text>
<g transform="translate(362.00,534.12) scale(1.0,1) rotate(-90)"><text x="0" y="0" dy="0.35em" font-family="Liberation Sans" font-size="6.7" fill="#1a1a1a" text-anchor="middle" stroke="#1a1a1a" stroke-width="0.18" textLength="9.31" lengthAdjust="spacingAndGlyphs">0.2</text></g>
<line x1="423.76" y1="566.7" x2="423.76" y2="569.9000000000001" stroke="#333" stroke-width="0.8"/>
<line x1="368.5" y1="508.24" x2="371.7" y2="508.24" stroke="#333" stroke-width="0.8"/>
<text x="419.66" y="579.30" font-family="Liberation Sans" font-size="6.7" font-weight="normal" fill="#1a1a1a" stroke="#1a1a1a" stroke-width="0.22" textLength="8.20" lengthAdjust="spacingAndGlyphs">0.4</text>
<g transform="translate(362.00,508.24) scale(1.0,1) rotate(-90)"><text x="0" y="0" dy="0.35em" font-family="Liberation Sans" font-size="6.7" fill="#1a1a1a" text-anchor="middle" stroke="#1a1a1a" stroke-width="0.18" textLength="9.31" lengthAdjust="spacingAndGlyphs">0.4</text></g>
<line x1="444.84" y1="566.7" x2="444.84" y2="569.9000000000001" stroke="#333" stroke-width="0.8"/>
<line x1="368.5" y1="482.36" x2="371.7" y2="482.36" stroke="#333" stroke-width="0.8"/>
<text x="440.74" y="579.30" font-family="Liberation Sans" font-size="6.7" font-weight="normal" fill="#1a1a1a" stroke="#1a1a1a" stroke-width="0.22" textLength="8.20" lengthAdjust="spacingAndGlyphs">0.6</text>
<g transform="translate(362.00,482.36) scale(1.0,1) rotate(-90)"><text x="0" y="0" dy="0.35em" font-family="Liberation Sans" font-size="6.7" fill="#1a1a1a" text-anchor="middle" stroke="#1a1a1a" stroke-width="0.18" textLength="9.31" lengthAdjust="spacingAndGlyphs">0.6</text></g>
<line x1="465.92" y1="566.7" x2="465.92" y2="569.9000000000001" stroke="#333" stroke-width="0.8"/>
<line x1="368.5" y1="456.48" x2="371.7" y2="456.48" stroke="#333" stroke-width="0.8"/>
<text x="461.82" y="579.30" font-family="Liberation Sans" font-size="6.7" font-weight="normal" fill="#1a1a1a" stroke="#1a1a1a" stroke-width="0.22" textLength="8.20" lengthAdjust="spacingAndGlyphs">0.8</text>
<g transform="translate(362.00,456.48) scale(1.0,1) rotate(-90)"><text x="0" y="0" dy="0.35em" font-family="Liberation Sans" font-size="6.7" fill="#1a1a1a" text-anchor="middle" stroke="#1a1a1a" stroke-width="0.18" textLength="9.31" lengthAdjust="spacingAndGlyphs">0.8</text></g>
<line x1="487.00" y1="566.7" x2="487.00" y2="569.9000000000001" stroke="#333" stroke-width="0.8"/>
<line x1="368.5" y1="430.60" x2="371.7" y2="430.60" stroke="#333" stroke-width="0.8"/>
<text x="482.90" y="579.30" font-family="Liberation Sans" font-size="6.7" font-weight="normal" fill="#1a1a1a" stroke="#1a1a1a" stroke-width="0.22" textLength="8.20" lengthAdjust="spacingAndGlyphs">1.0</text>
<g transform="translate(362.00,430.60) scale(1.0,1) rotate(-90)"><text x="0" y="0" dy="0.35em" font-family="Liberation Sans" font-size="6.7" fill="#1a1a1a" text-anchor="middle" stroke="#1a1a1a" stroke-width="0.18" textLength="9.31" lengthAdjust="spacingAndGlyphs">1.0</text></g>
<path d="M381.60,560.00 L381.60,430.60 L381.60,430.60 L381.60,430.60 L487.00,430.60" fill="none" stroke="#FF4242" stroke-width="1.2" stroke-linejoin="miter"/>
<rect x="380.65" y="429.65" width="1.9" height="1.9" fill="#000"/>
<text x="383.80" y="436.80" font-family="Liberation Sans" font-size="6.7" font-weight="normal" fill="#1a1a1a" stroke="#1a1a1a" stroke-width="0.22" textLength="52.80" lengthAdjust="spacingAndGlyphs">10.179 (1.000, 1.000)</text>
<text x="433.91" y="499.90" font-family="Liberation Sans" font-size="6.7" font-weight="normal" fill="#FF4242" stroke="#FF4242" stroke-width="0.22" textLength="28.37" lengthAdjust="spacingAndGlyphs">AUC: 1.000</text>
<text x="420.00" y="506.60" font-family="Liberation Sans" font-size="6.7" font-weight="normal" fill="#FF4242" stroke="#FF4242" stroke-width="0.22" textLength="51.70" lengthAdjust="spacingAndGlyphs">95% CI: 1.000−1.000</text>
<text x="424.75" y="420.40" font-family="Liberation Sans" font-size="7.564516129032258" font-weight="bold" fill="#000" textLength="18.11" lengthAdjust="spacingAndGlyphs">CCR5</text>
<text x="415.52" y="591.60" font-family="Liberation Sans" font-size="6.7" font-weight="normal" fill="#1a1a1a" stroke="#1a1a1a" stroke-width="0.22" textLength="36.56" lengthAdjust="spacingAndGlyphs">1 − Specificity</text>
<g transform="translate(352.90,494.50) scale(1.0,1) rotate(-90)"><text x="0" y="0" dy="0.35em" font-family="Liberation Sans" font-size="6.7" fill="#1a1a1a" text-anchor="middle" stroke="#1a1a1a" stroke-width="0.18" textLength="30.15" lengthAdjust="spacingAndGlyphs">Sensitivity</text></g>
<text transform="translate(514.30,420.70) scale(0.906,1)" x="0" y="0" font-family="Liberation Serif" font-weight="bold" font-size="20.92" fill="#000">L</text>
<rect x="545.9" y="420.9" width="128.20" height="144.40" fill="none" stroke="#9a9a9a" stroke-width="1"/>
<line x1="551.28" y1="565.3" x2="668.95" y2="420.9" stroke="#c8c8c8" stroke-width="0.7"/>
<line x1="555.60" y1="565.3" x2="555.60" y2="568.5" stroke="#333" stroke-width="0.8"/>
<line x1="542.6999999999999" y1="560.00" x2="545.9" y2="560.00" stroke="#333" stroke-width="0.8"/>
<text x="551.41" y="581.00" font-family="Liberation Sans" font-size="6.85" font-weight="normal" fill="#1a1a1a" stroke="#1a1a1a" stroke-width="0.22" textLength="8.38" lengthAdjust="spacingAndGlyphs">0.0</text>
<g transform="translate(536.30,560.00) scale(1.0,1) rotate(-90)"><text x="0" y="0" dy="0.35em" font-family="Liberation Sans" font-size="6.85" fill="#1a1a1a" text-anchor="middle" stroke="#1a1a1a" stroke-width="0.18" textLength="9.52" lengthAdjust="spacingAndGlyphs">0.0</text></g>
<line x1="577.26" y1="565.3" x2="577.26" y2="568.5" stroke="#333" stroke-width="0.8"/>
<line x1="542.6999999999999" y1="533.42" x2="545.9" y2="533.42" stroke="#333" stroke-width="0.8"/>
<text x="573.07" y="581.00" font-family="Liberation Sans" font-size="6.85" font-weight="normal" fill="#1a1a1a" stroke="#1a1a1a" stroke-width="0.22" textLength="8.38" lengthAdjust="spacingAndGlyphs">0.2</text>
<g transform="translate(536.30,533.42) scale(1.0,1) rotate(-90)"><text x="0" y="0" dy="0.35em" font-family="Liberation Sans" font-size="6.85" fill="#1a1a1a" text-anchor="middle" stroke="#1a1a1a" stroke-width="0.18" textLength="9.52" lengthAdjust="spacingAndGlyphs">0.2</text></g>
<line x1="598.92" y1="565.3" x2="598.92" y2="568.5" stroke="#333" stroke-width="0.8"/>
<line x1="542.6999999999999" y1="506.84" x2="545.9" y2="506.84" stroke="#333" stroke-width="0.8"/>
<text x="594.73" y="581.00" font-family="Liberation Sans" font-size="6.85" font-weight="normal" fill="#1a1a1a" stroke="#1a1a1a" stroke-width="0.22" textLength="8.38" lengthAdjust="spacingAndGlyphs">0.4</text>
<g transform="translate(536.30,506.84) scale(1.0,1) rotate(-90)"><text x="0" y="0" dy="0.35em" font-family="Liberation Sans" font-size="6.85" fill="#1a1a1a" text-anchor="middle" stroke="#1a1a1a" stroke-width="0.18" textLength="9.52" lengthAdjust="spacingAndGlyphs">0.4</text></g>
<line x1="620.58" y1="565.3" x2="620.58" y2="568.5" stroke="#333" stroke-width="0.8"/>
<line x1="542.6999999999999" y1="480.26" x2="545.9" y2="480.26" stroke="#333" stroke-width="0.8"/>
<text x="616.39" y="581.00" font-family="Liberation Sans" font-size="6.85" font-weight="normal" fill="#1a1a1a" stroke="#1a1a1a" stroke-width="0.22" textLength="8.38" lengthAdjust="spacingAndGlyphs">0.6</text>
<g transform="translate(536.30,480.26) scale(1.0,1) rotate(-90)"><text x="0" y="0" dy="0.35em" font-family="Liberation Sans" font-size="6.85" fill="#1a1a1a" text-anchor="middle" stroke="#1a1a1a" stroke-width="0.18" textLength="9.52" lengthAdjust="spacingAndGlyphs">0.6</text></g>
<line x1="642.24" y1="565.3" x2="642.24" y2="568.5" stroke="#333" stroke-width="0.8"/>
<line x1="542.6999999999999" y1="453.68" x2="545.9" y2="453.68" stroke="#333" stroke-width="0.8"/>
<text x="638.05" y="581.00" font-family="Liberation Sans" font-size="6.85" font-weight="normal" fill="#1a1a1a" stroke="#1a1a1a" stroke-width="0.22" textLength="8.38" lengthAdjust="spacingAndGlyphs">0.8</text>
<g transform="translate(536.30,453.68) scale(1.0,1) rotate(-90)"><text x="0" y="0" dy="0.35em" font-family="Liberation Sans" font-size="6.85" fill="#1a1a1a" text-anchor="middle" stroke="#1a1a1a" stroke-width="0.18" textLength="9.52" lengthAdjust="spacingAndGlyphs">0.8</text></g>
<line x1="663.90" y1="565.3" x2="663.90" y2="568.5" stroke="#333" stroke-width="0.8"/>
<line x1="542.6999999999999" y1="427.10" x2="545.9" y2="427.10" stroke="#333" stroke-width="0.8"/>
<text x="659.71" y="581.00" font-family="Liberation Sans" font-size="6.85" font-weight="normal" fill="#1a1a1a" stroke="#1a1a1a" stroke-width="0.22" textLength="8.38" lengthAdjust="spacingAndGlyphs">1.0</text>
<g transform="translate(536.30,427.10) scale(1.0,1) rotate(-90)"><text x="0" y="0" dy="0.35em" font-family="Liberation Sans" font-size="6.85" fill="#1a1a1a" text-anchor="middle" stroke="#1a1a1a" stroke-width="0.18" textLength="9.52" lengthAdjust="spacingAndGlyphs">1.0</text></g>
<path d="M555.60,560.00 L555.60,438.18 L627.80,438.18 L627.80,427.10 L663.90,427.10" fill="none" stroke="#FF4242" stroke-width="1.2" stroke-linejoin="miter"/>
<rect x="554.65" y="437.23" width="1.9" height="1.9" fill="#000"/>
<text x="558.20" y="444.60" font-family="Liberation Sans" font-size="6.85" font-weight="normal" fill="#1a1a1a" stroke="#1a1a1a" stroke-width="0.22" textLength="54.20" lengthAdjust="spacingAndGlyphs">12.913 (1.000, 0.917)</text>
<text x="609.79" y="498.30" font-family="Liberation Sans" font-size="6.85" font-weight="normal" fill="#FF4242" stroke="#FF4242" stroke-width="0.22" textLength="29.42" lengthAdjust="spacingAndGlyphs">AUC: 0.944</text>
<text x="595.00" y="505.30" font-family="Liberation Sans" font-size="6.85" font-weight="normal" fill="#FF4242" stroke="#FF4242" stroke-width="0.22" textLength="53.60" lengthAdjust="spacingAndGlyphs">95% CI: 0.778−1.000</text>
<text x="597.76" y="416.00" font-family="Liberation Sans" font-size="7.733870967741934" font-weight="bold" fill="#000" textLength="23.48" lengthAdjust="spacingAndGlyphs">KIF13B</text>
<text x="590.81" y="592.60" font-family="Liberation Sans" font-size="6.85" font-weight="normal" fill="#1a1a1a" stroke="#1a1a1a" stroke-width="0.22" textLength="37.37" lengthAdjust="spacingAndGlyphs">1 − Specificity</text>
<g transform="translate(525.90,493.50) scale(1.0,1) rotate(-90)"><text x="0" y="0" dy="0.35em" font-family="Liberation Sans" font-size="6.85" fill="#1a1a1a" text-anchor="middle" stroke="#1a1a1a" stroke-width="0.18" textLength="30.82" lengthAdjust="spacingAndGlyphs">Sensitivity</text></g>
<text transform="translate(3.00,420.70) scale(0.828,1)" x="0" y="0" font-family="Liberation Serif" font-weight="bold" font-size="21.07" fill="#000">I</text>
<rect x="66.6" y="414.9" width="7.9" height="9.3" fill="#3B4992" stroke="#222" stroke-width="0.5"/>
<text x="77.10" y="421.90" font-family="Liberation Sans" font-size="6.8" font-weight="normal" fill="#1a1a1a" stroke="#1a1a1a" stroke-width="0.22" textLength="14.40" lengthAdjust="spacingAndGlyphs">Control</text>
<rect x="94.3" y="414.9" width="7.9" height="9.3" fill="#EE0000" stroke="#222" stroke-width="0.5"/>
<text x="104.80" y="421.90" font-family="Liberation Sans" font-size="6.8" font-weight="normal" fill="#1a1a1a" stroke="#1a1a1a" stroke-width="0.22" textLength="6.40" lengthAdjust="spacingAndGlyphs">OP</text>
<path d="M20.6,433.8 L20.6,564.3 L157.5,564.3" fill="none" stroke="#5a5a5a" stroke-width="0.95"/>
<line x1="18.8" y1="448.9" x2="20.6" y2="448.9" stroke="#222" stroke-width="0.9"/>
<line x1="18.8" y1="479.6" x2="20.6" y2="479.6" stroke="#222" stroke-width="0.9"/>
<line x1="18.8" y1="510" x2="20.6" y2="510" stroke="#222" stroke-width="0.9"/>
<line x1="18.8" y1="540.2" x2="20.6" y2="540.2" stroke="#222" stroke-width="0.9"/>
<text x="7.50" y="451.30" font-family="Liberation Sans" font-size="7.0" font-weight="normal" fill="#1a1a1a" stroke="#1a1a1a" stroke-width="0.22" textLength="11.40" lengthAdjust="spacingAndGlyphs">10.5</text>
<text x="7.50" y="482.00" font-family="Liberation Sans" font-size="7.0" font-weight="normal" fill="#1a1a1a" stroke="#1a1a1a" stroke-width="0.22" textLength="11.40" lengthAdjust="spacingAndGlyphs">10.0</text>
<text x="10.35" y="512.40" font-family="Liberation Sans" font-size="7.0" font-weight="normal" fill="#1a1a1a" stroke="#1a1a1a" stroke-width="0.22" textLength="8.55" lengthAdjust="spacingAndGlyphs">9.5</text>
<text x="10.35" y="542.60" font-family="Liberation Sans" font-size="7.0" font-weight="normal" fill="#1a1a1a" stroke="#1a1a1a" stroke-width="0.22" textLength="8.55" lengthAdjust="spacingAndGlyphs">9.0</text>
<g transform="translate(3.40,499.20) scale(0.8,1) rotate(-90)"><text x="0" y="0" dy="0.35em" font-family="Liberation Sans" font-size="6.6" fill="#3a3a3a" text-anchor="middle" stroke="#3a3a3a" stroke-width="0.18" textLength="50.4" lengthAdjust="spacingAndGlyphs">CCR5 expression</text></g>
<line x1="58.2" y1="564.3" x2="58.2" y2="566.0999999999999" stroke="#222" stroke-width="0.9"/>
<line x1="120.6" y1="564.3" x2="120.6" y2="566.0999999999999" stroke="#222" stroke-width="0.9"/>
<text x="49.50" y="573.00" font-family="Liberation Sans" font-size="6.9" font-weight="normal" fill="#1a1a1a" stroke="#1a1a1a" stroke-width="0.22" textLength="17.00" lengthAdjust="spacingAndGlyphs">Control</text>
<text x="114.00" y="573.00" font-family="Liberation Sans" font-size="6.9" font-weight="normal" fill="#1a1a1a" stroke="#1a1a1a" stroke-width="0.22" textLength="8.40" lengthAdjust="spacingAndGlyphs">OP</text>
<path d="M58.20,440.10 C58.45,440.43 59.02,441.42 59.70,442.10 C60.38,442.78 60.93,443.52 62.30,444.20 C63.67,444.88 65.77,445.52 67.90,446.20 C70.03,446.88 72.72,447.62 75.10,448.30 C77.48,448.98 80.17,449.62 82.20,450.30 C84.23,450.98 86.07,451.63 87.30,452.40 C88.53,453.17 89.43,454.13 89.60,454.90 C89.77,455.67 89.02,456.32 88.30,457.00 C87.58,457.68 86.15,458.23 85.30,459.00 C84.45,459.77 83.63,460.83 83.20,461.60 C82.77,462.37 83.03,462.92 82.70,463.60 C82.37,464.28 82.13,465.02 81.20,465.70 C80.27,466.38 78.97,467.03 77.10,467.70 C75.23,468.37 72.22,469.02 70.00,469.70 C67.78,470.38 65.43,471.12 63.80,471.80 C62.17,472.48 61.13,472.87 60.20,473.80 C59.27,474.73 58.53,476.80 58.20,477.40 C57.87,476.80 57.13,474.73 56.20,473.80 C55.27,472.87 54.23,472.48 52.60,471.80 C50.97,471.12 48.62,470.38 46.40,469.70 C44.18,469.02 41.17,468.37 39.30,467.70 C37.43,467.03 36.13,466.38 35.20,465.70 C34.27,465.02 34.03,464.28 33.70,463.60 C33.37,462.92 33.63,462.37 33.20,461.60 C32.77,460.83 31.95,459.77 31.10,459.00 C30.25,458.23 28.82,457.68 28.10,457.00 C27.38,456.32 26.63,455.67 26.80,454.90 C26.97,454.13 27.87,453.17 29.10,452.40 C30.33,451.63 32.17,450.98 34.20,450.30 C36.23,449.62 38.92,448.98 41.30,448.30 C43.68,447.62 46.37,446.88 48.50,446.20 C50.63,445.52 52.73,444.88 54.10,444.20 C55.47,443.52 56.02,442.78 56.70,442.10 C57.38,441.42 57.95,440.43 58.20,440.10Z" fill="#3B4992" stroke="#111" stroke-width="0.6"/>
<line x1="58.2" y1="447.2" x2="58.2" y2="465.7" stroke="#111" stroke-width="0.7"/>
<rect x="51.4" y="454.4" width="12.699999999999996" height="7.7000000000000455" fill="#fff" stroke="#111" stroke-width="0.6"/>
<line x1="51.4" y1="457.7" x2="64.1" y2="457.7" stroke="#111" stroke-width="1.5"/>
<path d="M120.60,449.40 C120.73,450.28 121.05,453.12 121.40,454.70 C121.75,456.28 122.03,457.50 122.70,458.90 C123.37,460.30 124.25,461.70 125.40,463.10 C126.55,464.50 128.02,465.90 129.60,467.30 C131.18,468.70 133.32,470.10 134.90,471.50 C136.48,472.90 138.05,474.38 139.10,475.70 C140.15,477.02 141.13,478.18 141.20,479.40 C141.27,480.62 140.55,481.70 139.50,483.00 C138.45,484.30 136.55,485.80 134.90,487.20 C133.25,488.60 131.35,490.00 129.60,491.40 C127.85,492.80 125.65,494.20 124.40,495.60 C123.15,497.00 122.65,498.48 122.10,499.80 C121.55,501.12 121.29,502.22 121.10,503.50 C120.91,504.78 120.93,506.25 120.95,507.50 C120.97,508.75 120.99,509.83 121.20,511.00 C121.41,512.17 121.73,513.25 122.20,514.50 C122.67,515.75 123.32,516.92 124.00,518.50 C124.68,520.08 125.63,522.05 126.30,524.00 C126.97,525.95 127.90,528.12 128.00,530.20 C128.10,532.28 127.50,534.40 126.90,536.50 C126.30,538.60 125.17,540.70 124.40,542.80 C123.63,544.90 122.83,547.18 122.30,549.10 C121.77,551.02 121.48,552.57 121.20,554.30 C120.92,556.03 120.70,558.63 120.60,559.50 C120.50,558.63 120.28,556.03 120.00,554.30 C119.72,552.57 119.43,551.02 118.90,549.10 C118.37,547.18 117.57,544.90 116.80,542.80 C116.03,540.70 114.90,538.60 114.30,536.50 C113.70,534.40 113.10,532.28 113.20,530.20 C113.30,528.12 114.23,525.95 114.90,524.00 C115.57,522.05 116.52,520.08 117.20,518.50 C117.88,516.92 118.53,515.75 119.00,514.50 C119.47,513.25 119.79,512.17 120.00,511.00 C120.21,509.83 120.23,508.75 120.25,507.50 C120.27,506.25 120.29,504.78 120.10,503.50 C119.91,502.22 119.65,501.12 119.10,499.80 C118.55,498.48 118.05,497.00 116.80,495.60 C115.55,494.20 113.35,492.80 111.60,491.40 C109.85,490.00 107.95,488.60 106.30,487.20 C104.65,485.80 102.75,484.30 101.70,483.00 C100.65,481.70 99.93,480.62 100.00,479.40 C100.07,478.18 101.05,477.02 102.10,475.70 C103.15,474.38 104.72,472.90 106.30,471.50 C107.88,470.10 110.02,468.70 111.60,467.30 C113.18,465.90 114.65,464.50 115.80,463.10 C116.95,461.70 117.83,460.30 118.50,458.90 C119.17,457.50 119.45,456.28 119.80,454.70 C120.15,453.12 120.47,450.28 120.60,449.40Z" fill="#EE0000" stroke="#111" stroke-width="0.6"/>
<line x1="120.6" y1="471" x2="120.6" y2="502.5" stroke="#111" stroke-width="0.7"/>
<rect x="114.3" y="478.4" width="13.299999999999997" height="17.80000000000001" fill="#fff" stroke="#111" stroke-width="0.6"/>
<line x1="114.3" y1="480.9" x2="127.6" y2="480.9" stroke="#111" stroke-width="1.5"/>
<ellipse cx="120.6" cy="526.6" rx="1.0" ry="1.7" fill="#000"/>
<ellipse cx="120.6" cy="535.6" rx="1.0" ry="1.8" fill="#000"/>
<path d="M58.2,447.5 L58.2,447.5 L120.6,447.5 L120.6,450.5" fill="none" stroke="#555" stroke-width="0.65"/>
<text x="89.4" y="445.8" font-family="Liberation Sans" font-size="5" fill="#333" stroke="#333" stroke-width="0.15" text-anchor="middle">**</text>
<text transform="translate(169.00,420.49) scale(0.961,1)" x="0" y="0" font-family="Liberation Serif" font-weight="bold" font-size="20.60" fill="#000">J</text>
<rect x="235.4" y="414.2" width="7.5" height="9.2" fill="#3B4992" stroke="#222" stroke-width="0.5"/>
<text x="246.00" y="421.20" font-family="Liberation Sans" font-size="6.8" font-weight="normal" fill="#1a1a1a" stroke="#1a1a1a" stroke-width="0.22" textLength="15.10" lengthAdjust="spacingAndGlyphs">Control</text>
<rect x="264.1" y="414.2" width="7.5" height="9.2" fill="#EE0000" stroke="#222" stroke-width="0.5"/>
<text x="274.20" y="421.20" font-family="Liberation Sans" font-size="6.8" font-weight="normal" fill="#1a1a1a" stroke="#1a1a1a" stroke-width="0.22" textLength="6.80" lengthAdjust="spacingAndGlyphs">OP</text>
<path d="M185.8,433.2 L185.8,564.4 L331.9,564.4" fill="none" stroke="#5a5a5a" stroke-width="0.95"/>
<line x1="184.0" y1="466.4" x2="185.8" y2="466.4" stroke="#222" stroke-width="0.9"/>
<line x1="184.0" y1="513.3" x2="185.8" y2="513.3" stroke="#222" stroke-width="0.9"/>
<line x1="184.0" y1="559.2" x2="185.8" y2="559.2" stroke="#222" stroke-width="0.9"/>
<text x="177.60" y="468.80" font-family="Liberation Sans" font-size="7.0" font-weight="normal" fill="#1a1a1a" stroke="#1a1a1a" stroke-width="0.22" textLength="6.00" lengthAdjust="spacingAndGlyphs">13</text>
<text x="177.60" y="515.70" font-family="Liberation Sans" font-size="7.0" font-weight="normal" fill="#1a1a1a" stroke="#1a1a1a" stroke-width="0.22" textLength="6.00" lengthAdjust="spacingAndGlyphs">12</text>
<text x="177.60" y="561.60" font-family="Liberation Sans" font-size="7.0" font-weight="normal" fill="#1a1a1a" stroke="#1a1a1a" stroke-width="0.22" textLength="6.00" lengthAdjust="spacingAndGlyphs">11</text>
<g transform="translate(172.60,498.90) scale(0.8,1) rotate(-90)"><text x="0" y="0" dy="0.35em" font-family="Liberation Sans" font-size="6.6" fill="#3a3a3a" text-anchor="middle" stroke="#3a3a3a" stroke-width="0.18" textLength="55.8" lengthAdjust="spacingAndGlyphs">KIF13B expression</text></g>
<line x1="225.3" y1="564.4" x2="225.3" y2="566.1999999999999" stroke="#222" stroke-width="0.9"/>
<line x1="291.8" y1="564.4" x2="291.8" y2="566.1999999999999" stroke="#222" stroke-width="0.9"/>
<text x="216.50" y="573.00" font-family="Liberation Sans" font-size="6.9" font-weight="normal" fill="#1a1a1a" stroke="#1a1a1a" stroke-width="0.22" textLength="17.00" lengthAdjust="spacingAndGlyphs">Control</text>
<text x="285.10" y="573.00" font-family="Liberation Sans" font-size="6.9" font-weight="normal" fill="#1a1a1a" stroke="#1a1a1a" stroke-width="0.22" textLength="8.00" lengthAdjust="spacingAndGlyphs">OP</text>
<path d="M225.30,460.20 C225.63,460.38 225.52,460.93 227.30,461.30 C229.08,461.67 233.37,462.03 236.00,462.40 C238.63,462.77 241.82,463.13 243.10,463.50 C244.38,463.87 243.97,464.23 243.70,464.60 C243.43,464.97 241.68,465.33 241.50,465.70 C241.32,466.07 240.95,466.43 242.60,466.80 C244.25,467.17 248.75,467.53 251.40,467.90 C254.05,468.27 257.78,468.63 258.50,469.00 C259.22,469.37 257.98,469.73 255.70,470.10 C253.42,470.47 248.08,470.83 244.80,471.20 C241.52,471.57 238.55,471.93 236.00,472.30 C233.45,472.67 231.28,473.05 229.50,473.40 C227.72,473.75 226.00,474.23 225.30,474.40 C224.60,474.23 222.88,473.75 221.10,473.40 C219.32,473.05 217.15,472.67 214.60,472.30 C212.05,471.93 209.08,471.57 205.80,471.20 C202.52,470.83 197.18,470.47 194.90,470.10 C192.62,469.73 191.38,469.37 192.10,469.00 C192.82,468.63 196.55,468.27 199.20,467.90 C201.85,467.53 206.35,467.17 208.00,466.80 C209.65,466.43 209.28,466.07 209.10,465.70 C208.92,465.33 207.17,464.97 206.90,464.60 C206.63,464.23 206.22,463.87 207.50,463.50 C208.78,463.13 211.97,462.77 214.60,462.40 C217.23,462.03 221.52,461.67 223.30,461.30 C225.08,460.93 224.97,460.38 225.30,460.20Z" fill="#3B4992" stroke="#111" stroke-width="0.6"/>
<line x1="225.3" y1="460.2" x2="225.3" y2="474.4" stroke="#111" stroke-width="0.7"/>
<rect x="218.7" y="466.6" width="13.5" height="2.8999999999999773" fill="#fff" stroke="#111" stroke-width="0.6"/>
<line x1="218.7" y1="467.3" x2="232.2" y2="467.3" stroke="#111" stroke-width="1.0"/>
<path d="M291.80,451.50 C291.92,452.25 292.25,454.42 292.50,456.00 C292.75,457.58 293.03,459.33 293.30,461.00 C293.57,462.67 293.85,464.33 294.10,466.00 C294.35,467.67 294.58,469.33 294.80,471.00 C295.02,472.67 295.30,474.50 295.40,476.00 C295.50,477.50 295.50,477.67 295.40,480.00 C295.30,482.33 295.00,486.67 294.80,490.00 C294.60,493.33 294.37,497.17 294.20,500.00 C294.03,502.83 293.92,504.50 293.80,507.00 C293.68,509.50 293.52,512.67 293.50,515.00 C293.48,517.33 293.65,518.83 293.70,521.00 C293.75,523.17 293.87,525.67 293.80,528.00 C293.73,530.33 293.50,532.83 293.30,535.00 C293.10,537.17 292.85,539.25 292.60,541.00 C292.35,542.75 291.93,544.75 291.80,545.50 C291.67,544.75 291.25,542.75 291.00,541.00 C290.75,539.25 290.50,537.17 290.30,535.00 C290.10,532.83 289.87,530.33 289.80,528.00 C289.73,525.67 289.85,523.17 289.90,521.00 C289.95,518.83 290.12,517.33 290.10,515.00 C290.08,512.67 289.92,509.50 289.80,507.00 C289.68,504.50 289.57,502.83 289.40,500.00 C289.23,497.17 289.00,493.33 288.80,490.00 C288.60,486.67 288.30,482.33 288.20,480.00 C288.10,477.67 288.10,477.50 288.20,476.00 C288.30,474.50 288.58,472.67 288.80,471.00 C289.02,469.33 289.25,467.67 289.50,466.00 C289.75,464.33 290.03,462.67 290.30,461.00 C290.57,459.33 290.85,457.58 291.10,456.00 C291.35,454.42 291.68,452.25 291.80,451.50Z" fill="#EE0000" stroke="#111" stroke-width="0.6"/>
<line x1="291.8" y1="438.9" x2="291.8" y2="558.2" stroke="#111" stroke-width="0.7"/>
<line x1="291.8" y1="477.1" x2="291.8" y2="500.4" stroke="#111" stroke-width="0.7"/>
<rect x="285.3" y="477.1" width="13.300000000000011" height="23.299999999999955" fill="#fff" stroke="#111" stroke-width="0.6"/>
<line x1="285.3" y1="491.3" x2="298.6" y2="491.3" stroke="#111" stroke-width="1.3"/>
<path d="M225.3,461.3 L225.3,461.3 L291.8,461.3 L291.8,461.3" fill="none" stroke="#555" stroke-width="0.65"/>
<text x="258.8" y="459.3" font-family="Liberation Sans" font-size="5" fill="#333" stroke="#333" stroke-width="0.15" text-anchor="middle">*</text>
<line x1="158.5" y1="214" x2="158.5" y2="391" stroke="#f3f3f3" stroke-width="0.7"/>
</svg></body></html>
